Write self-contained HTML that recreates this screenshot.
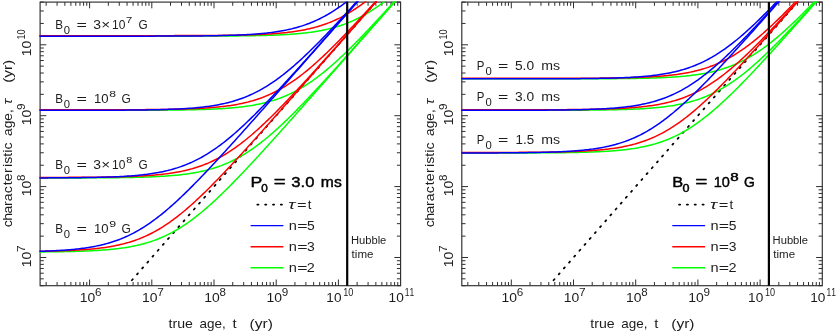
<!DOCTYPE html>
<html><head><meta charset="utf-8"><title>chart</title>
<style>html,body{margin:0;padding:0;background:#fff;}body{width:836px;height:332px;overflow:hidden;font-family:"Liberation Sans",sans-serif;}svg{display:block;will-change:transform}text{font-kerning:none;white-space:pre}</style>
</head><body>
<svg width="836" height="332" viewBox="0 0 836 332" font-family="Liberation Sans, sans-serif">
<defs><clipPath id="c0"><rect x="39.5" y="1.5" width="361.7" height="284.79999999999995"/></clipPath>
<clipPath id="c1"><rect x="461.2" y="1.5" width="361.7" height="284.79999999999995"/></clipPath></defs>
<rect x="40.10" y="2.10" width="360.50" height="283.60" fill="none" stroke="#2e2e2e" stroke-width="1.15"/>
<line x1="46.13" y1="2.10" x2="46.13" y2="5.80" stroke="#2e2e2e" stroke-width="1.0" />
<line x1="46.13" y1="285.70" x2="46.13" y2="282.00" stroke="#2e2e2e" stroke-width="1.0" />
<line x1="57.08" y1="2.10" x2="57.08" y2="5.80" stroke="#2e2e2e" stroke-width="1.0" />
<line x1="57.08" y1="285.70" x2="57.08" y2="282.00" stroke="#2e2e2e" stroke-width="1.0" />
<line x1="64.85" y1="2.10" x2="64.85" y2="5.80" stroke="#2e2e2e" stroke-width="1.0" />
<line x1="64.85" y1="285.70" x2="64.85" y2="282.00" stroke="#2e2e2e" stroke-width="1.0" />
<line x1="70.88" y1="2.10" x2="70.88" y2="5.80" stroke="#2e2e2e" stroke-width="1.0" />
<line x1="70.88" y1="285.70" x2="70.88" y2="282.00" stroke="#2e2e2e" stroke-width="1.0" />
<line x1="75.80" y1="2.10" x2="75.80" y2="5.80" stroke="#2e2e2e" stroke-width="1.0" />
<line x1="75.80" y1="285.70" x2="75.80" y2="282.00" stroke="#2e2e2e" stroke-width="1.0" />
<line x1="79.97" y1="2.10" x2="79.97" y2="5.80" stroke="#2e2e2e" stroke-width="1.0" />
<line x1="79.97" y1="285.70" x2="79.97" y2="282.00" stroke="#2e2e2e" stroke-width="1.0" />
<line x1="83.58" y1="2.10" x2="83.58" y2="5.80" stroke="#2e2e2e" stroke-width="1.0" />
<line x1="83.58" y1="285.70" x2="83.58" y2="282.00" stroke="#2e2e2e" stroke-width="1.0" />
<line x1="86.76" y1="2.10" x2="86.76" y2="5.80" stroke="#2e2e2e" stroke-width="1.0" />
<line x1="86.76" y1="285.70" x2="86.76" y2="282.00" stroke="#2e2e2e" stroke-width="1.0" />
<line x1="89.60" y1="2.10" x2="89.60" y2="8.30" stroke="#2e2e2e" stroke-width="1.0" />
<line x1="89.60" y1="285.70" x2="89.60" y2="279.50" stroke="#2e2e2e" stroke-width="1.0" />
<line x1="108.33" y1="2.10" x2="108.33" y2="5.80" stroke="#2e2e2e" stroke-width="1.0" />
<line x1="108.33" y1="285.70" x2="108.33" y2="282.00" stroke="#2e2e2e" stroke-width="1.0" />
<line x1="119.28" y1="2.10" x2="119.28" y2="5.80" stroke="#2e2e2e" stroke-width="1.0" />
<line x1="119.28" y1="285.70" x2="119.28" y2="282.00" stroke="#2e2e2e" stroke-width="1.0" />
<line x1="127.05" y1="2.10" x2="127.05" y2="5.80" stroke="#2e2e2e" stroke-width="1.0" />
<line x1="127.05" y1="285.70" x2="127.05" y2="282.00" stroke="#2e2e2e" stroke-width="1.0" />
<line x1="133.08" y1="2.10" x2="133.08" y2="5.80" stroke="#2e2e2e" stroke-width="1.0" />
<line x1="133.08" y1="285.70" x2="133.08" y2="282.00" stroke="#2e2e2e" stroke-width="1.0" />
<line x1="138.00" y1="2.10" x2="138.00" y2="5.80" stroke="#2e2e2e" stroke-width="1.0" />
<line x1="138.00" y1="285.70" x2="138.00" y2="282.00" stroke="#2e2e2e" stroke-width="1.0" />
<line x1="142.17" y1="2.10" x2="142.17" y2="5.80" stroke="#2e2e2e" stroke-width="1.0" />
<line x1="142.17" y1="285.70" x2="142.17" y2="282.00" stroke="#2e2e2e" stroke-width="1.0" />
<line x1="145.77" y1="2.10" x2="145.77" y2="5.80" stroke="#2e2e2e" stroke-width="1.0" />
<line x1="145.77" y1="285.70" x2="145.77" y2="282.00" stroke="#2e2e2e" stroke-width="1.0" />
<line x1="148.96" y1="2.10" x2="148.96" y2="5.80" stroke="#2e2e2e" stroke-width="1.0" />
<line x1="148.96" y1="285.70" x2="148.96" y2="282.00" stroke="#2e2e2e" stroke-width="1.0" />
<line x1="151.80" y1="2.10" x2="151.80" y2="8.30" stroke="#2e2e2e" stroke-width="1.0" />
<line x1="151.80" y1="285.70" x2="151.80" y2="279.50" stroke="#2e2e2e" stroke-width="1.0" />
<line x1="170.53" y1="2.10" x2="170.53" y2="5.80" stroke="#2e2e2e" stroke-width="1.0" />
<line x1="170.53" y1="285.70" x2="170.53" y2="282.00" stroke="#2e2e2e" stroke-width="1.0" />
<line x1="181.48" y1="2.10" x2="181.48" y2="5.80" stroke="#2e2e2e" stroke-width="1.0" />
<line x1="181.48" y1="285.70" x2="181.48" y2="282.00" stroke="#2e2e2e" stroke-width="1.0" />
<line x1="189.25" y1="2.10" x2="189.25" y2="5.80" stroke="#2e2e2e" stroke-width="1.0" />
<line x1="189.25" y1="285.70" x2="189.25" y2="282.00" stroke="#2e2e2e" stroke-width="1.0" />
<line x1="195.28" y1="2.10" x2="195.28" y2="5.80" stroke="#2e2e2e" stroke-width="1.0" />
<line x1="195.28" y1="285.70" x2="195.28" y2="282.00" stroke="#2e2e2e" stroke-width="1.0" />
<line x1="200.20" y1="2.10" x2="200.20" y2="5.80" stroke="#2e2e2e" stroke-width="1.0" />
<line x1="200.20" y1="285.70" x2="200.20" y2="282.00" stroke="#2e2e2e" stroke-width="1.0" />
<line x1="204.37" y1="2.10" x2="204.37" y2="5.80" stroke="#2e2e2e" stroke-width="1.0" />
<line x1="204.37" y1="285.70" x2="204.37" y2="282.00" stroke="#2e2e2e" stroke-width="1.0" />
<line x1="207.97" y1="2.10" x2="207.97" y2="5.80" stroke="#2e2e2e" stroke-width="1.0" />
<line x1="207.97" y1="285.70" x2="207.97" y2="282.00" stroke="#2e2e2e" stroke-width="1.0" />
<line x1="211.16" y1="2.10" x2="211.16" y2="5.80" stroke="#2e2e2e" stroke-width="1.0" />
<line x1="211.16" y1="285.70" x2="211.16" y2="282.00" stroke="#2e2e2e" stroke-width="1.0" />
<line x1="214.00" y1="2.10" x2="214.00" y2="8.30" stroke="#2e2e2e" stroke-width="1.0" />
<line x1="214.00" y1="285.70" x2="214.00" y2="279.50" stroke="#2e2e2e" stroke-width="1.0" />
<line x1="232.73" y1="2.10" x2="232.73" y2="5.80" stroke="#2e2e2e" stroke-width="1.0" />
<line x1="232.73" y1="285.70" x2="232.73" y2="282.00" stroke="#2e2e2e" stroke-width="1.0" />
<line x1="243.68" y1="2.10" x2="243.68" y2="5.80" stroke="#2e2e2e" stroke-width="1.0" />
<line x1="243.68" y1="285.70" x2="243.68" y2="282.00" stroke="#2e2e2e" stroke-width="1.0" />
<line x1="251.45" y1="2.10" x2="251.45" y2="5.80" stroke="#2e2e2e" stroke-width="1.0" />
<line x1="251.45" y1="285.70" x2="251.45" y2="282.00" stroke="#2e2e2e" stroke-width="1.0" />
<line x1="257.48" y1="2.10" x2="257.48" y2="5.80" stroke="#2e2e2e" stroke-width="1.0" />
<line x1="257.48" y1="285.70" x2="257.48" y2="282.00" stroke="#2e2e2e" stroke-width="1.0" />
<line x1="262.40" y1="2.10" x2="262.40" y2="5.80" stroke="#2e2e2e" stroke-width="1.0" />
<line x1="262.40" y1="285.70" x2="262.40" y2="282.00" stroke="#2e2e2e" stroke-width="1.0" />
<line x1="266.57" y1="2.10" x2="266.57" y2="5.80" stroke="#2e2e2e" stroke-width="1.0" />
<line x1="266.57" y1="285.70" x2="266.57" y2="282.00" stroke="#2e2e2e" stroke-width="1.0" />
<line x1="270.17" y1="2.10" x2="270.17" y2="5.80" stroke="#2e2e2e" stroke-width="1.0" />
<line x1="270.17" y1="285.70" x2="270.17" y2="282.00" stroke="#2e2e2e" stroke-width="1.0" />
<line x1="273.36" y1="2.10" x2="273.36" y2="5.80" stroke="#2e2e2e" stroke-width="1.0" />
<line x1="273.36" y1="285.70" x2="273.36" y2="282.00" stroke="#2e2e2e" stroke-width="1.0" />
<line x1="276.20" y1="2.10" x2="276.20" y2="8.30" stroke="#2e2e2e" stroke-width="1.0" />
<line x1="276.20" y1="285.70" x2="276.20" y2="279.50" stroke="#2e2e2e" stroke-width="1.0" />
<line x1="294.93" y1="2.10" x2="294.93" y2="5.80" stroke="#2e2e2e" stroke-width="1.0" />
<line x1="294.93" y1="285.70" x2="294.93" y2="282.00" stroke="#2e2e2e" stroke-width="1.0" />
<line x1="305.88" y1="2.10" x2="305.88" y2="5.80" stroke="#2e2e2e" stroke-width="1.0" />
<line x1="305.88" y1="285.70" x2="305.88" y2="282.00" stroke="#2e2e2e" stroke-width="1.0" />
<line x1="313.65" y1="2.10" x2="313.65" y2="5.80" stroke="#2e2e2e" stroke-width="1.0" />
<line x1="313.65" y1="285.70" x2="313.65" y2="282.00" stroke="#2e2e2e" stroke-width="1.0" />
<line x1="319.68" y1="2.10" x2="319.68" y2="5.80" stroke="#2e2e2e" stroke-width="1.0" />
<line x1="319.68" y1="285.70" x2="319.68" y2="282.00" stroke="#2e2e2e" stroke-width="1.0" />
<line x1="324.60" y1="2.10" x2="324.60" y2="5.80" stroke="#2e2e2e" stroke-width="1.0" />
<line x1="324.60" y1="285.70" x2="324.60" y2="282.00" stroke="#2e2e2e" stroke-width="1.0" />
<line x1="328.77" y1="2.10" x2="328.77" y2="5.80" stroke="#2e2e2e" stroke-width="1.0" />
<line x1="328.77" y1="285.70" x2="328.77" y2="282.00" stroke="#2e2e2e" stroke-width="1.0" />
<line x1="332.37" y1="2.10" x2="332.37" y2="5.80" stroke="#2e2e2e" stroke-width="1.0" />
<line x1="332.37" y1="285.70" x2="332.37" y2="282.00" stroke="#2e2e2e" stroke-width="1.0" />
<line x1="335.55" y1="2.10" x2="335.55" y2="5.80" stroke="#2e2e2e" stroke-width="1.0" />
<line x1="335.55" y1="285.70" x2="335.55" y2="282.00" stroke="#2e2e2e" stroke-width="1.0" />
<line x1="338.40" y1="2.10" x2="338.40" y2="8.30" stroke="#2e2e2e" stroke-width="1.0" />
<line x1="338.40" y1="285.70" x2="338.40" y2="279.50" stroke="#2e2e2e" stroke-width="1.0" />
<line x1="357.12" y1="2.10" x2="357.12" y2="5.80" stroke="#2e2e2e" stroke-width="1.0" />
<line x1="357.12" y1="285.70" x2="357.12" y2="282.00" stroke="#2e2e2e" stroke-width="1.0" />
<line x1="368.08" y1="2.10" x2="368.08" y2="5.80" stroke="#2e2e2e" stroke-width="1.0" />
<line x1="368.08" y1="285.70" x2="368.08" y2="282.00" stroke="#2e2e2e" stroke-width="1.0" />
<line x1="375.85" y1="2.10" x2="375.85" y2="5.80" stroke="#2e2e2e" stroke-width="1.0" />
<line x1="375.85" y1="285.70" x2="375.85" y2="282.00" stroke="#2e2e2e" stroke-width="1.0" />
<line x1="381.88" y1="2.10" x2="381.88" y2="5.80" stroke="#2e2e2e" stroke-width="1.0" />
<line x1="381.88" y1="285.70" x2="381.88" y2="282.00" stroke="#2e2e2e" stroke-width="1.0" />
<line x1="386.80" y1="2.10" x2="386.80" y2="5.80" stroke="#2e2e2e" stroke-width="1.0" />
<line x1="386.80" y1="285.70" x2="386.80" y2="282.00" stroke="#2e2e2e" stroke-width="1.0" />
<line x1="390.97" y1="2.10" x2="390.97" y2="5.80" stroke="#2e2e2e" stroke-width="1.0" />
<line x1="390.97" y1="285.70" x2="390.97" y2="282.00" stroke="#2e2e2e" stroke-width="1.0" />
<line x1="394.57" y1="2.10" x2="394.57" y2="5.80" stroke="#2e2e2e" stroke-width="1.0" />
<line x1="394.57" y1="285.70" x2="394.57" y2="282.00" stroke="#2e2e2e" stroke-width="1.0" />
<line x1="397.75" y1="2.10" x2="397.75" y2="5.80" stroke="#2e2e2e" stroke-width="1.0" />
<line x1="397.75" y1="285.70" x2="397.75" y2="282.00" stroke="#2e2e2e" stroke-width="1.0" />
<line x1="40.10" y1="285.70" x2="43.80" y2="285.70" stroke="#2e2e2e" stroke-width="1.0" />
<line x1="400.60" y1="285.70" x2="396.90" y2="285.70" stroke="#2e2e2e" stroke-width="1.0" />
<line x1="40.10" y1="278.83" x2="43.80" y2="278.83" stroke="#2e2e2e" stroke-width="1.0" />
<line x1="400.60" y1="278.83" x2="396.90" y2="278.83" stroke="#2e2e2e" stroke-width="1.0" />
<line x1="40.10" y1="273.22" x2="43.80" y2="273.22" stroke="#2e2e2e" stroke-width="1.0" />
<line x1="400.60" y1="273.22" x2="396.90" y2="273.22" stroke="#2e2e2e" stroke-width="1.0" />
<line x1="40.10" y1="268.47" x2="43.80" y2="268.47" stroke="#2e2e2e" stroke-width="1.0" />
<line x1="400.60" y1="268.47" x2="396.90" y2="268.47" stroke="#2e2e2e" stroke-width="1.0" />
<line x1="40.10" y1="264.36" x2="43.80" y2="264.36" stroke="#2e2e2e" stroke-width="1.0" />
<line x1="400.60" y1="264.36" x2="396.90" y2="264.36" stroke="#2e2e2e" stroke-width="1.0" />
<line x1="40.10" y1="260.73" x2="43.80" y2="260.73" stroke="#2e2e2e" stroke-width="1.0" />
<line x1="400.60" y1="260.73" x2="396.90" y2="260.73" stroke="#2e2e2e" stroke-width="1.0" />
<line x1="40.10" y1="257.49" x2="46.30" y2="257.49" stroke="#2e2e2e" stroke-width="1.0" />
<line x1="400.60" y1="257.49" x2="394.40" y2="257.49" stroke="#2e2e2e" stroke-width="1.0" />
<line x1="40.10" y1="236.14" x2="43.80" y2="236.14" stroke="#2e2e2e" stroke-width="1.0" />
<line x1="400.60" y1="236.14" x2="396.90" y2="236.14" stroke="#2e2e2e" stroke-width="1.0" />
<line x1="40.10" y1="223.66" x2="43.80" y2="223.66" stroke="#2e2e2e" stroke-width="1.0" />
<line x1="400.60" y1="223.66" x2="396.90" y2="223.66" stroke="#2e2e2e" stroke-width="1.0" />
<line x1="40.10" y1="214.80" x2="43.80" y2="214.80" stroke="#2e2e2e" stroke-width="1.0" />
<line x1="400.60" y1="214.80" x2="396.90" y2="214.80" stroke="#2e2e2e" stroke-width="1.0" />
<line x1="40.10" y1="207.93" x2="43.80" y2="207.93" stroke="#2e2e2e" stroke-width="1.0" />
<line x1="400.60" y1="207.93" x2="396.90" y2="207.93" stroke="#2e2e2e" stroke-width="1.0" />
<line x1="40.10" y1="202.32" x2="43.80" y2="202.32" stroke="#2e2e2e" stroke-width="1.0" />
<line x1="400.60" y1="202.32" x2="396.90" y2="202.32" stroke="#2e2e2e" stroke-width="1.0" />
<line x1="40.10" y1="197.57" x2="43.80" y2="197.57" stroke="#2e2e2e" stroke-width="1.0" />
<line x1="400.60" y1="197.57" x2="396.90" y2="197.57" stroke="#2e2e2e" stroke-width="1.0" />
<line x1="40.10" y1="193.46" x2="43.80" y2="193.46" stroke="#2e2e2e" stroke-width="1.0" />
<line x1="400.60" y1="193.46" x2="396.90" y2="193.46" stroke="#2e2e2e" stroke-width="1.0" />
<line x1="40.10" y1="189.83" x2="43.80" y2="189.83" stroke="#2e2e2e" stroke-width="1.0" />
<line x1="400.60" y1="189.83" x2="396.90" y2="189.83" stroke="#2e2e2e" stroke-width="1.0" />
<line x1="40.10" y1="186.59" x2="46.30" y2="186.59" stroke="#2e2e2e" stroke-width="1.0" />
<line x1="400.60" y1="186.59" x2="394.40" y2="186.59" stroke="#2e2e2e" stroke-width="1.0" />
<line x1="40.10" y1="165.24" x2="43.80" y2="165.24" stroke="#2e2e2e" stroke-width="1.0" />
<line x1="400.60" y1="165.24" x2="396.90" y2="165.24" stroke="#2e2e2e" stroke-width="1.0" />
<line x1="40.10" y1="152.76" x2="43.80" y2="152.76" stroke="#2e2e2e" stroke-width="1.0" />
<line x1="400.60" y1="152.76" x2="396.90" y2="152.76" stroke="#2e2e2e" stroke-width="1.0" />
<line x1="40.10" y1="143.90" x2="43.80" y2="143.90" stroke="#2e2e2e" stroke-width="1.0" />
<line x1="400.60" y1="143.90" x2="396.90" y2="143.90" stroke="#2e2e2e" stroke-width="1.0" />
<line x1="40.10" y1="137.03" x2="43.80" y2="137.03" stroke="#2e2e2e" stroke-width="1.0" />
<line x1="400.60" y1="137.03" x2="396.90" y2="137.03" stroke="#2e2e2e" stroke-width="1.0" />
<line x1="40.10" y1="131.42" x2="43.80" y2="131.42" stroke="#2e2e2e" stroke-width="1.0" />
<line x1="400.60" y1="131.42" x2="396.90" y2="131.42" stroke="#2e2e2e" stroke-width="1.0" />
<line x1="40.10" y1="126.67" x2="43.80" y2="126.67" stroke="#2e2e2e" stroke-width="1.0" />
<line x1="400.60" y1="126.67" x2="396.90" y2="126.67" stroke="#2e2e2e" stroke-width="1.0" />
<line x1="40.10" y1="122.56" x2="43.80" y2="122.56" stroke="#2e2e2e" stroke-width="1.0" />
<line x1="400.60" y1="122.56" x2="396.90" y2="122.56" stroke="#2e2e2e" stroke-width="1.0" />
<line x1="40.10" y1="118.93" x2="43.80" y2="118.93" stroke="#2e2e2e" stroke-width="1.0" />
<line x1="400.60" y1="118.93" x2="396.90" y2="118.93" stroke="#2e2e2e" stroke-width="1.0" />
<line x1="40.10" y1="115.69" x2="46.30" y2="115.69" stroke="#2e2e2e" stroke-width="1.0" />
<line x1="400.60" y1="115.69" x2="394.40" y2="115.69" stroke="#2e2e2e" stroke-width="1.0" />
<line x1="40.10" y1="94.34" x2="43.80" y2="94.34" stroke="#2e2e2e" stroke-width="1.0" />
<line x1="400.60" y1="94.34" x2="396.90" y2="94.34" stroke="#2e2e2e" stroke-width="1.0" />
<line x1="40.10" y1="81.86" x2="43.80" y2="81.86" stroke="#2e2e2e" stroke-width="1.0" />
<line x1="400.60" y1="81.86" x2="396.90" y2="81.86" stroke="#2e2e2e" stroke-width="1.0" />
<line x1="40.10" y1="73.00" x2="43.80" y2="73.00" stroke="#2e2e2e" stroke-width="1.0" />
<line x1="400.60" y1="73.00" x2="396.90" y2="73.00" stroke="#2e2e2e" stroke-width="1.0" />
<line x1="40.10" y1="66.13" x2="43.80" y2="66.13" stroke="#2e2e2e" stroke-width="1.0" />
<line x1="400.60" y1="66.13" x2="396.90" y2="66.13" stroke="#2e2e2e" stroke-width="1.0" />
<line x1="40.10" y1="60.52" x2="43.80" y2="60.52" stroke="#2e2e2e" stroke-width="1.0" />
<line x1="400.60" y1="60.52" x2="396.90" y2="60.52" stroke="#2e2e2e" stroke-width="1.0" />
<line x1="40.10" y1="55.77" x2="43.80" y2="55.77" stroke="#2e2e2e" stroke-width="1.0" />
<line x1="400.60" y1="55.77" x2="396.90" y2="55.77" stroke="#2e2e2e" stroke-width="1.0" />
<line x1="40.10" y1="51.66" x2="43.80" y2="51.66" stroke="#2e2e2e" stroke-width="1.0" />
<line x1="400.60" y1="51.66" x2="396.90" y2="51.66" stroke="#2e2e2e" stroke-width="1.0" />
<line x1="40.10" y1="48.03" x2="43.80" y2="48.03" stroke="#2e2e2e" stroke-width="1.0" />
<line x1="400.60" y1="48.03" x2="396.90" y2="48.03" stroke="#2e2e2e" stroke-width="1.0" />
<line x1="40.10" y1="44.79" x2="46.30" y2="44.79" stroke="#2e2e2e" stroke-width="1.0" />
<line x1="400.60" y1="44.79" x2="394.40" y2="44.79" stroke="#2e2e2e" stroke-width="1.0" />
<line x1="40.10" y1="23.44" x2="43.80" y2="23.44" stroke="#2e2e2e" stroke-width="1.0" />
<line x1="400.60" y1="23.44" x2="396.90" y2="23.44" stroke="#2e2e2e" stroke-width="1.0" />
<line x1="40.10" y1="10.96" x2="43.80" y2="10.96" stroke="#2e2e2e" stroke-width="1.0" />
<line x1="400.60" y1="10.96" x2="396.90" y2="10.96" stroke="#2e2e2e" stroke-width="1.0" />
<line x1="40.10" y1="2.10" x2="43.80" y2="2.10" stroke="#2e2e2e" stroke-width="1.0" />
<line x1="400.60" y1="2.10" x2="396.90" y2="2.10" stroke="#2e2e2e" stroke-width="1.0" />
<g clip-path="url(#c0)" fill="none" stroke-linejoin="round">
<line x1="131.86" y1="280.22" x2="400.60" y2="-26.11" stroke="#000" stroke-width="1.8" stroke-linecap="round" stroke-dasharray="1.3 6.54"/>

<polyline points="36.99,36.18 38.51,36.18 40.02,36.18 41.54,36.18 43.05,36.18 44.57,36.18 46.08,36.18 47.60,36.18 49.11,36.18 50.63,36.18 52.14,36.18 53.66,36.18 55.17,36.18 56.69,36.18 58.20,36.18 59.72,36.18 61.23,36.18 62.75,36.18 64.26,36.18 65.78,36.18 67.29,36.18 68.81,36.18 70.32,36.18 71.84,36.18 73.35,36.18 74.87,36.18 76.38,36.18 77.90,36.18 79.41,36.18 80.93,36.18 82.44,36.18 83.96,36.18 85.47,36.18 86.99,36.18 88.50,36.18 90.02,36.18 91.53,36.18 93.05,36.18 94.56,36.18 96.08,36.18 97.59,36.18 99.11,36.18 100.62,36.18 102.14,36.18 103.65,36.18 105.17,36.18 106.68,36.18 108.20,36.18 109.71,36.18 111.23,36.18 112.74,36.18 114.26,36.17 115.77,36.17 117.29,36.17 118.80,36.17 120.32,36.17 121.83,36.17 123.35,36.17 124.86,36.17 126.38,36.17 127.89,36.17 129.41,36.17 130.92,36.17 132.44,36.17 133.95,36.17 135.47,36.17 136.98,36.17 138.50,36.17 140.01,36.17 141.53,36.17 143.04,36.17 144.56,36.17 146.07,36.17 147.59,36.17 149.10,36.17 150.62,36.17 152.13,36.17 153.65,36.17 155.16,36.16 156.68,36.16 158.19,36.16 159.71,36.16 161.22,36.16 162.74,36.16 164.25,36.16 165.77,36.16 167.28,36.16 168.80,36.16 170.31,36.15 171.83,36.15 173.34,36.15 174.86,36.15 176.37,36.15 177.89,36.15 179.40,36.15 180.92,36.14 182.43,36.14 183.95,36.14 185.46,36.14 186.98,36.13 188.49,36.13 190.01,36.13 191.52,36.13 193.04,36.12 194.55,36.12 196.07,36.12 197.58,36.11 199.10,36.11 200.61,36.11 202.13,36.10 203.64,36.10 205.16,36.09 206.67,36.09 208.19,36.08 209.70,36.08 211.22,36.07 212.73,36.07 214.25,36.06 215.76,36.05 217.28,36.05 218.80,36.04 220.31,36.03 221.83,36.02 223.34,36.01 224.86,36.00 226.37,35.99 227.89,35.98 229.40,35.97 230.92,35.96 232.43,35.95 233.95,35.93 235.46,35.92 236.98,35.90 238.49,35.89 240.01,35.87 241.52,35.85 243.04,35.84 244.55,35.82 246.07,35.80 247.58,35.77 249.10,35.75 250.61,35.73 252.13,35.70 253.64,35.67 255.16,35.64 256.67,35.61 258.19,35.58 259.70,35.55 261.22,35.51 262.73,35.47 264.25,35.43 265.76,35.39 267.28,35.35 268.79,35.30 270.31,35.25 271.82,35.20 273.34,35.14 274.85,35.08 276.37,35.02 277.88,34.95 279.40,34.89 280.91,34.81 282.43,34.74 283.94,34.65 285.46,34.57 286.97,34.48 288.49,34.38 290.00,34.28 291.52,34.18 293.03,34.07 294.55,33.95 296.06,33.82 297.58,33.69 299.09,33.56 300.61,33.41 302.12,33.26 303.64,33.10 305.15,32.93 306.67,32.75 308.18,32.57 309.70,32.37 311.21,32.17 312.73,31.95 314.24,31.72 315.76,31.49 317.27,31.24 318.79,30.97 320.30,30.70 321.82,30.41 323.33,30.11 324.85,29.79 326.36,29.46 327.88,29.12 329.39,28.76 330.91,28.38 332.42,27.98 333.94,27.57 335.45,27.14 336.97,26.70 338.48,26.23 340.00,25.74 341.51,25.24 343.03,24.71 344.54,24.16 346.06,23.60 347.57,23.01 349.09,22.40 350.60,21.76 352.12,21.11 353.63,20.43 355.15,19.73 356.66,19.00 358.18,18.25 359.69,17.48 361.21,16.69 362.72,15.87 364.24,15.02 365.75,14.15 367.27,13.26 368.78,12.34 370.30,11.40 371.81,10.44 373.33,9.45 374.84,8.44 376.36,7.40 377.87,6.34 379.39,5.26 380.90,4.16 382.42,3.03 383.93,1.89 385.45,0.72 386.96,-0.47 388.48,-1.68 389.99,-2.91 391.51,-4.16 393.02,-5.43 394.54,-6.71 396.05,-8.02 397.57,-9.34 399.08,-10.68 400.60,-12.04" stroke="#00ff00" stroke-width="1.5"/>
<polyline points="36.99,35.68 38.51,35.68 40.02,35.68 41.54,35.68 43.05,35.68 44.57,35.68 46.08,35.68 47.60,35.68 49.11,35.68 50.63,35.68 52.14,35.68 53.66,35.68 55.17,35.68 56.69,35.68 58.20,35.68 59.72,35.68 61.23,35.68 62.75,35.68 64.26,35.68 65.78,35.68 67.29,35.68 68.81,35.68 70.32,35.68 71.84,35.68 73.35,35.68 74.87,35.68 76.38,35.68 77.90,35.68 79.41,35.68 80.93,35.68 82.44,35.68 83.96,35.68 85.47,35.68 86.99,35.68 88.50,35.68 90.02,35.68 91.53,35.68 93.05,35.68 94.56,35.68 96.08,35.68 97.59,35.67 99.11,35.67 100.62,35.67 102.14,35.67 103.65,35.67 105.17,35.67 106.68,35.67 108.20,35.67 109.71,35.67 111.23,35.67 112.74,35.67 114.26,35.67 115.77,35.67 117.29,35.67 118.80,35.67 120.32,35.67 121.83,35.67 123.35,35.67 124.86,35.67 126.38,35.67 127.89,35.67 129.41,35.67 130.92,35.67 132.44,35.67 133.95,35.67 135.47,35.67 136.98,35.66 138.50,35.66 140.01,35.66 141.53,35.66 143.04,35.66 144.56,35.66 146.07,35.66 147.59,35.66 149.10,35.66 150.62,35.66 152.13,35.65 153.65,35.65 155.16,35.65 156.68,35.65 158.19,35.65 159.71,35.65 161.22,35.65 162.74,35.64 164.25,35.64 165.77,35.64 167.28,35.64 168.80,35.64 170.31,35.63 171.83,35.63 173.34,35.63 174.86,35.62 176.37,35.62 177.89,35.62 179.40,35.61 180.92,35.61 182.43,35.61 183.95,35.60 185.46,35.60 186.98,35.59 188.49,35.59 190.01,35.58 191.52,35.58 193.04,35.57 194.55,35.57 196.07,35.56 197.58,35.55 199.10,35.55 200.61,35.54 202.13,35.53 203.64,35.52 205.16,35.51 206.67,35.51 208.19,35.50 209.70,35.48 211.22,35.47 212.73,35.46 214.25,35.45 215.76,35.44 217.28,35.42 218.80,35.41 220.31,35.39 221.83,35.38 223.34,35.36 224.86,35.34 226.37,35.32 227.89,35.30 229.40,35.28 230.92,35.26 232.43,35.23 233.95,35.21 235.46,35.18 236.98,35.15 238.49,35.12 240.01,35.09 241.52,35.05 243.04,35.02 244.55,34.98 246.07,34.94 247.58,34.90 249.10,34.86 250.61,34.81 252.13,34.76 253.64,34.71 255.16,34.65 256.67,34.59 258.19,34.53 259.70,34.47 261.22,34.40 262.73,34.33 264.25,34.25 265.76,34.17 267.28,34.09 268.79,34.00 270.31,33.90 271.82,33.80 273.34,33.70 274.85,33.59 276.37,33.47 277.88,33.35 279.40,33.22 280.91,33.08 282.43,32.94 283.94,32.79 285.46,32.63 286.97,32.46 288.49,32.29 290.00,32.10 291.52,31.91 293.03,31.71 294.55,31.49 296.06,31.27 297.58,31.03 299.09,30.78 300.61,30.52 302.12,30.25 303.64,29.96 305.15,29.66 306.67,29.35 308.18,29.02 309.70,28.67 311.21,28.31 312.73,27.94 314.24,27.55 315.76,27.14 317.27,26.71 318.79,26.26 320.30,25.80 321.82,25.31 323.33,24.81 324.85,24.28 326.36,23.74 327.88,23.17 329.39,22.58 330.91,21.97 332.42,21.34 333.94,20.68 335.45,20.00 336.97,19.30 338.48,18.57 340.00,17.83 341.51,17.05 343.03,16.25 344.54,15.43 346.06,14.59 347.57,13.72 349.09,12.82 350.60,11.90 352.12,10.96 353.63,9.99 355.15,9.00 356.66,7.99 358.18,6.95 359.69,5.89 361.21,4.80 362.72,3.70 364.24,2.57 365.75,1.42 367.27,0.25 368.78,-0.95 370.30,-2.16 371.81,-3.39 373.33,-4.65 374.84,-5.92 376.36,-7.21 377.87,-8.52 379.39,-9.85 380.90,-11.19 382.42,-12.55 383.93,-13.93 385.45,-15.32 386.96,-16.72 388.48,-18.15 389.99,-19.58 391.51,-21.03 393.02,-22.49 394.54,-23.96 396.05,-25.45 397.57,-26.95 399.08,-28.45 400.60,-29.97" stroke="#ff0000" stroke-width="1.5"/>
<polyline points="36.99,36.18 38.51,36.18 40.02,36.18 41.54,36.18 43.05,36.18 44.57,36.18 46.08,36.18 47.60,36.18 49.11,36.18 50.63,36.18 52.14,36.18 53.66,36.18 55.17,36.18 56.69,36.18 58.20,36.18 59.72,36.18 61.23,36.18 62.75,36.18 64.26,36.18 65.78,36.18 67.29,36.18 68.81,36.18 70.32,36.18 71.84,36.18 73.35,36.18 74.87,36.18 76.38,36.18 77.90,36.17 79.41,36.17 80.93,36.17 82.44,36.17 83.96,36.17 85.47,36.17 86.99,36.17 88.50,36.17 90.02,36.17 91.53,36.17 93.05,36.17 94.56,36.17 96.08,36.17 97.59,36.17 99.11,36.17 100.62,36.17 102.14,36.17 103.65,36.17 105.17,36.17 106.68,36.17 108.20,36.17 109.71,36.17 111.23,36.17 112.74,36.17 114.26,36.17 115.77,36.17 117.29,36.16 118.80,36.16 120.32,36.16 121.83,36.16 123.35,36.16 124.86,36.16 126.38,36.16 127.89,36.16 129.41,36.16 130.92,36.16 132.44,36.15 133.95,36.15 135.47,36.15 136.98,36.15 138.50,36.15 140.01,36.15 141.53,36.15 143.04,36.14 144.56,36.14 146.07,36.14 147.59,36.14 149.10,36.14 150.62,36.13 152.13,36.13 153.65,36.13 155.16,36.12 156.68,36.12 158.19,36.12 159.71,36.12 161.22,36.11 162.74,36.11 164.25,36.10 165.77,36.10 167.28,36.09 168.80,36.09 170.31,36.08 171.83,36.08 173.34,36.07 174.86,36.07 176.37,36.06 177.89,36.05 179.40,36.05 180.92,36.04 182.43,36.03 183.95,36.02 185.46,36.02 186.98,36.01 188.49,36.00 190.01,35.99 191.52,35.97 193.04,35.96 194.55,35.95 196.07,35.94 197.58,35.92 199.10,35.91 200.61,35.89 202.13,35.88 203.64,35.86 205.16,35.84 206.67,35.82 208.19,35.80 209.70,35.78 211.22,35.76 212.73,35.73 214.25,35.71 215.76,35.68 217.28,35.65 218.80,35.62 220.31,35.59 221.83,35.56 223.34,35.52 224.86,35.48 226.37,35.44 227.89,35.40 229.40,35.36 230.92,35.31 232.43,35.26 233.95,35.21 235.46,35.16 236.98,35.10 238.49,35.04 240.01,34.97 241.52,34.90 243.04,34.83 244.55,34.76 246.07,34.68 247.58,34.59 249.10,34.50 250.61,34.41 252.13,34.31 253.64,34.21 255.16,34.10 256.67,33.98 258.19,33.86 259.70,33.73 261.22,33.60 262.73,33.45 264.25,33.30 265.76,33.15 267.28,32.98 268.79,32.80 270.31,32.62 271.82,32.43 273.34,32.23 274.85,32.01 276.37,31.79 277.88,31.55 279.40,31.31 280.91,31.05 282.43,30.78 283.94,30.49 285.46,30.20 286.97,29.88 288.49,29.56 290.00,29.22 291.52,28.86 293.03,28.49 294.55,28.10 296.06,27.69 297.58,27.27 299.09,26.82 300.61,26.36 302.12,25.88 303.64,25.38 305.15,24.86 306.67,24.32 308.18,23.76 309.70,23.18 311.21,22.57 312.73,21.95 314.24,21.30 315.76,20.62 317.27,19.93 318.79,19.21 320.30,18.47 321.82,17.70 323.33,16.91 324.85,16.10 326.36,15.26 327.88,14.40 329.39,13.51 330.91,12.60 332.42,11.67 333.94,10.71 335.45,9.73 336.97,8.73 338.48,7.70 340.00,6.65 341.51,5.57 343.03,4.47 344.54,3.35 346.06,2.21 347.57,1.05 349.09,-0.13 350.60,-1.34 352.12,-2.56 353.63,-3.80 355.15,-5.07 356.66,-6.35 358.18,-7.65 359.69,-8.97 361.21,-10.30 362.72,-11.65 364.24,-13.02 365.75,-14.40 367.27,-15.80 368.78,-17.22 370.30,-18.64 371.81,-20.08 373.33,-21.54 374.84,-23.01 376.36,-24.48 377.87,-25.97 379.39,-27.48 380.90,-28.99 382.42,-30.51 383.93,-32.04 385.45,-33.59 386.96,-35.14 388.48,-36.70 389.99,-38.27 391.51,-39.84 393.02,-41.42 394.54,-43.02 396.05,-44.61 397.57,-46.22 399.08,-47.83 400.60,-49.44" stroke="#0000ff" stroke-width="1.5"/>
<polyline points="36.99,110.32 38.51,110.32 40.02,110.32 41.54,110.32 43.05,110.32 44.57,110.32 46.08,110.32 47.60,110.32 49.11,110.32 50.63,110.32 52.14,110.32 53.66,110.32 55.17,110.32 56.69,110.32 58.20,110.32 59.72,110.32 61.23,110.32 62.75,110.32 64.26,110.32 65.78,110.32 67.29,110.32 68.81,110.32 70.32,110.32 71.84,110.32 73.35,110.31 74.87,110.31 76.38,110.31 77.90,110.31 79.41,110.31 80.93,110.31 82.44,110.31 83.96,110.31 85.47,110.31 86.99,110.31 88.50,110.31 90.02,110.31 91.53,110.31 93.05,110.31 94.56,110.31 96.08,110.31 97.59,110.30 99.11,110.30 100.62,110.30 102.14,110.30 103.65,110.30 105.17,110.30 106.68,110.30 108.20,110.30 109.71,110.29 111.23,110.29 112.74,110.29 114.26,110.29 115.77,110.29 117.29,110.29 118.80,110.28 120.32,110.28 121.83,110.28 123.35,110.28 124.86,110.27 126.38,110.27 127.89,110.27 129.41,110.27 130.92,110.26 132.44,110.26 133.95,110.25 135.47,110.25 136.98,110.25 138.50,110.24 140.01,110.24 141.53,110.23 143.04,110.23 144.56,110.22 146.07,110.22 147.59,110.21 149.10,110.20 150.62,110.20 152.13,110.19 153.65,110.18 155.16,110.17 156.68,110.17 158.19,110.16 159.71,110.15 161.22,110.14 162.74,110.13 164.25,110.12 165.77,110.10 167.28,110.09 168.80,110.08 170.31,110.06 171.83,110.05 173.34,110.03 174.86,110.02 176.37,110.00 177.89,109.98 179.40,109.96 180.92,109.94 182.43,109.92 183.95,109.90 185.46,109.87 186.98,109.85 188.49,109.82 190.01,109.79 191.52,109.76 193.04,109.73 194.55,109.69 196.07,109.66 197.58,109.62 199.10,109.58 200.61,109.54 202.13,109.49 203.64,109.45 205.16,109.40 206.67,109.34 208.19,109.29 209.70,109.23 211.22,109.17 212.73,109.10 214.25,109.03 215.76,108.96 217.28,108.88 218.80,108.80 220.31,108.72 221.83,108.63 223.34,108.53 224.86,108.43 226.37,108.33 227.89,108.22 229.40,108.10 230.92,107.98 232.43,107.85 233.95,107.71 235.46,107.57 236.98,107.41 238.49,107.25 240.01,107.09 241.52,106.91 243.04,106.72 244.55,106.53 246.07,106.32 247.58,106.11 249.10,105.88 250.61,105.65 252.13,105.40 253.64,105.14 255.16,104.86 256.67,104.57 258.19,104.27 259.70,103.96 261.22,103.63 262.73,103.29 264.25,102.92 265.76,102.55 267.28,102.16 268.79,101.74 270.31,101.32 271.82,100.87 273.34,100.40 274.85,99.92 276.37,99.42 277.88,98.89 279.40,98.35 280.91,97.78 282.43,97.19 283.94,96.58 285.46,95.95 286.97,95.30 288.49,94.62 290.00,93.92 291.52,93.20 293.03,92.45 294.55,91.68 296.06,90.88 297.58,90.07 299.09,89.22 300.61,88.36 302.12,87.46 303.64,86.55 305.15,85.61 306.67,84.65 308.18,83.66 309.70,82.65 311.21,81.62 312.73,80.56 314.24,79.48 315.76,78.38 317.27,77.25 318.79,76.11 320.30,74.94 321.82,73.75 323.33,72.55 324.85,71.32 326.36,70.07 327.88,68.80 329.39,67.52 330.91,66.21 332.42,64.89 333.94,63.55 335.45,62.20 336.97,60.83 338.48,59.44 340.00,58.04 341.51,56.62 343.03,55.19 344.54,53.75 346.06,52.29 347.57,50.82 349.09,49.34 350.60,47.85 352.12,46.34 353.63,44.83 355.15,43.30 356.66,41.77 358.18,40.22 359.69,38.67 361.21,37.11 362.72,35.54 364.24,33.96 365.75,32.38 367.27,30.78 368.78,29.19 370.30,27.58 371.81,25.97 373.33,24.35 374.84,22.73 376.36,21.10 377.87,19.47 379.39,17.83 380.90,16.19 382.42,14.54 383.93,12.89 385.45,11.23 386.96,9.57 388.48,7.91 389.99,6.24 391.51,4.57 393.02,2.90 394.54,1.23 396.05,-0.45 397.57,-2.13 399.08,-3.82 400.60,-5.50" stroke="#00ff00" stroke-width="1.5"/>
<polyline points="36.99,109.82 38.51,109.82 40.02,109.82 41.54,109.82 43.05,109.82 44.57,109.82 46.08,109.82 47.60,109.82 49.11,109.82 50.63,109.82 52.14,109.82 53.66,109.82 55.17,109.82 56.69,109.81 58.20,109.81 59.72,109.81 61.23,109.81 62.75,109.81 64.26,109.81 65.78,109.81 67.29,109.81 68.81,109.81 70.32,109.81 71.84,109.81 73.35,109.81 74.87,109.81 76.38,109.81 77.90,109.81 79.41,109.80 80.93,109.80 82.44,109.80 83.96,109.80 85.47,109.80 86.99,109.80 88.50,109.80 90.02,109.80 91.53,109.80 93.05,109.79 94.56,109.79 96.08,109.79 97.59,109.79 99.11,109.79 100.62,109.78 102.14,109.78 103.65,109.78 105.17,109.78 106.68,109.77 108.20,109.77 109.71,109.77 111.23,109.77 112.74,109.76 114.26,109.76 115.77,109.76 117.29,109.75 118.80,109.75 120.32,109.74 121.83,109.74 123.35,109.73 124.86,109.73 126.38,109.72 127.89,109.72 129.41,109.71 130.92,109.71 132.44,109.70 133.95,109.69 135.47,109.68 136.98,109.68 138.50,109.67 140.01,109.66 141.53,109.65 143.04,109.64 144.56,109.63 146.07,109.62 147.59,109.61 149.10,109.59 150.62,109.58 152.13,109.57 153.65,109.55 155.16,109.54 156.68,109.52 158.19,109.50 159.71,109.49 161.22,109.47 162.74,109.45 164.25,109.42 165.77,109.40 167.28,109.38 168.80,109.35 170.31,109.33 171.83,109.30 173.34,109.27 174.86,109.23 176.37,109.20 177.89,109.17 179.40,109.13 180.92,109.09 182.43,109.05 183.95,109.00 185.46,108.96 186.98,108.91 188.49,108.86 190.01,108.80 191.52,108.74 193.04,108.68 194.55,108.62 196.07,108.55 197.58,108.48 199.10,108.40 200.61,108.32 202.13,108.24 203.64,108.15 205.16,108.05 206.67,107.95 208.19,107.85 209.70,107.74 211.22,107.62 212.73,107.50 214.25,107.37 215.76,107.24 217.28,107.09 218.80,106.94 220.31,106.79 221.83,106.62 223.34,106.44 224.86,106.26 226.37,106.07 227.89,105.86 229.40,105.65 230.92,105.42 232.43,105.19 233.95,104.94 235.46,104.68 236.98,104.41 238.49,104.12 240.01,103.83 241.52,103.51 243.04,103.18 244.55,102.84 246.07,102.48 247.58,102.11 249.10,101.72 250.61,101.31 252.13,100.88 253.64,100.44 255.16,99.97 256.67,99.49 258.19,98.98 259.70,98.46 261.22,97.92 262.73,97.35 264.25,96.76 265.76,96.16 267.28,95.52 268.79,94.87 270.31,94.19 271.82,93.49 273.34,92.77 274.85,92.02 276.37,91.25 277.88,90.45 279.40,89.63 280.91,88.79 282.43,87.92 283.94,87.03 285.46,86.11 286.97,85.17 288.49,84.20 290.00,83.21 291.52,82.20 293.03,81.16 294.55,80.10 296.06,79.02 297.58,77.92 299.09,76.79 300.61,75.64 302.12,74.47 303.64,73.28 305.15,72.06 306.67,70.83 308.18,69.58 309.70,68.31 311.21,67.02 312.73,65.71 314.24,64.39 315.76,63.04 317.27,61.69 318.79,60.31 320.30,58.92 321.82,57.51 323.33,56.09 324.85,54.66 326.36,53.21 327.88,51.75 329.39,50.28 330.91,48.80 332.42,47.30 333.94,45.79 335.45,44.27 336.97,42.75 338.48,41.21 340.00,39.66 341.51,38.11 343.03,36.54 344.54,34.97 346.06,33.39 347.57,31.80 349.09,30.21 350.60,28.61 352.12,27.00 353.63,25.39 355.15,23.77 356.66,22.14 358.18,20.51 359.69,18.88 361.21,17.24 362.72,15.59 364.24,13.94 365.75,12.29 367.27,10.64 368.78,8.98 370.30,7.31 371.81,5.64 373.33,3.97 374.84,2.30 376.36,0.62 377.87,-1.05 379.39,-2.74 380.90,-4.42 382.42,-6.11 383.93,-7.79 385.45,-9.49 386.96,-11.18 388.48,-12.87 389.99,-14.57 391.51,-16.27 393.02,-17.96 394.54,-19.67 396.05,-21.37 397.57,-23.07 399.08,-24.78 400.60,-26.48" stroke="#ff0000" stroke-width="1.5"/>
<polyline points="36.99,110.31 38.51,110.31 40.02,110.31 41.54,110.31 43.05,110.31 44.57,110.31 46.08,110.31 47.60,110.31 49.11,110.31 50.63,110.31 52.14,110.31 53.66,110.31 55.17,110.31 56.69,110.31 58.20,110.31 59.72,110.30 61.23,110.30 62.75,110.30 64.26,110.30 65.78,110.30 67.29,110.30 68.81,110.30 70.32,110.30 71.84,110.30 73.35,110.29 74.87,110.29 76.38,110.29 77.90,110.29 79.41,110.29 80.93,110.28 82.44,110.28 83.96,110.28 85.47,110.28 86.99,110.27 88.50,110.27 90.02,110.27 91.53,110.27 93.05,110.26 94.56,110.26 96.08,110.26 97.59,110.25 99.11,110.25 100.62,110.24 102.14,110.24 103.65,110.23 105.17,110.23 106.68,110.22 108.20,110.22 109.71,110.21 111.23,110.21 112.74,110.20 114.26,110.19 115.77,110.19 117.29,110.18 118.80,110.17 120.32,110.16 121.83,110.15 123.35,110.14 124.86,110.13 126.38,110.12 127.89,110.11 129.41,110.10 130.92,110.08 132.44,110.07 133.95,110.05 135.47,110.04 136.98,110.02 138.50,110.01 140.01,109.99 141.53,109.97 143.04,109.95 144.56,109.93 146.07,109.90 147.59,109.88 149.10,109.85 150.62,109.83 152.13,109.80 153.65,109.77 155.16,109.74 156.68,109.70 158.19,109.67 159.71,109.63 161.22,109.59 162.74,109.55 164.25,109.51 165.77,109.46 167.28,109.41 168.80,109.36 170.31,109.30 171.83,109.25 173.34,109.19 174.86,109.12 176.37,109.05 177.89,108.98 179.40,108.91 180.92,108.83 182.43,108.74 183.95,108.65 185.46,108.56 186.98,108.46 188.49,108.36 190.01,108.25 191.52,108.13 193.04,108.01 194.55,107.88 196.07,107.75 197.58,107.61 199.10,107.46 200.61,107.30 202.13,107.13 203.64,106.96 205.16,106.78 206.67,106.59 208.19,106.38 209.70,106.17 211.22,105.95 212.73,105.71 214.25,105.47 215.76,105.21 217.28,104.94 218.80,104.66 220.31,104.36 221.83,104.05 223.34,103.72 224.86,103.38 226.37,103.03 227.89,102.66 229.40,102.27 230.92,101.86 232.43,101.44 233.95,101.00 235.46,100.54 236.98,100.06 238.49,99.56 240.01,99.04 241.52,98.50 243.04,97.94 244.55,97.36 246.07,96.76 247.58,96.13 249.10,95.48 250.61,94.81 252.13,94.12 253.64,93.40 255.16,92.66 256.67,91.90 258.19,91.11 259.70,90.30 261.22,89.46 262.73,88.60 264.25,87.72 265.76,86.81 267.28,85.88 268.79,84.92 270.31,83.94 271.82,82.94 273.34,81.91 274.85,80.86 276.37,79.79 277.88,78.69 279.40,77.57 280.91,76.44 282.43,75.27 283.94,74.09 285.46,72.89 286.97,71.67 288.49,70.42 290.00,69.16 291.52,67.88 293.03,66.58 294.55,65.27 296.06,63.93 297.58,62.58 299.09,61.21 300.61,59.83 302.12,58.43 303.64,57.02 305.15,55.60 306.67,54.16 308.18,52.70 309.70,51.24 311.21,49.76 312.73,48.27 314.24,46.77 315.76,45.26 317.27,43.73 318.79,42.20 320.30,40.66 321.82,39.11 323.33,37.55 324.85,35.98 326.36,34.41 327.88,32.83 329.39,31.24 330.91,29.64 332.42,28.04 333.94,26.43 335.45,24.81 336.97,23.19 338.48,21.56 340.00,19.93 341.51,18.29 343.03,16.65 344.54,15.00 346.06,13.35 347.57,11.70 349.09,10.04 350.60,8.38 352.12,6.71 353.63,5.05 355.15,3.37 356.66,1.70 358.18,0.02 359.69,-1.66 361.21,-3.34 362.72,-5.02 364.24,-6.71 365.75,-8.40 367.27,-10.09 368.78,-11.78 370.30,-13.48 371.81,-15.18 373.33,-16.87 374.84,-18.57 376.36,-20.28 377.87,-21.98 379.39,-23.68 380.90,-25.39 382.42,-27.09 383.93,-28.80 385.45,-30.51 386.96,-32.22 388.48,-33.93 389.99,-35.64 391.51,-37.35 393.02,-39.07 394.54,-40.78 396.05,-42.49 397.57,-44.21 399.08,-45.92 400.60,-47.64" stroke="#0000ff" stroke-width="1.5"/>
<polyline points="36.99,177.96 38.51,177.96 40.02,177.96 41.54,177.96 43.05,177.96 44.57,177.96 46.08,177.95 47.60,177.95 49.11,177.95 50.63,177.95 52.14,177.95 53.66,177.95 55.17,177.95 56.69,177.94 58.20,177.94 59.72,177.94 61.23,177.94 62.75,177.93 64.26,177.93 65.78,177.93 67.29,177.93 68.81,177.92 70.32,177.92 71.84,177.92 73.35,177.91 74.87,177.91 76.38,177.91 77.90,177.90 79.41,177.90 80.93,177.89 82.44,177.89 83.96,177.88 85.47,177.88 86.99,177.87 88.50,177.87 90.02,177.86 91.53,177.85 93.05,177.84 94.56,177.84 96.08,177.83 97.59,177.82 99.11,177.81 100.62,177.80 102.14,177.79 103.65,177.78 105.17,177.77 106.68,177.76 108.20,177.75 109.71,177.73 111.23,177.72 112.74,177.70 114.26,177.69 115.77,177.67 117.29,177.65 118.80,177.63 120.32,177.61 121.83,177.59 123.35,177.57 124.86,177.55 126.38,177.52 127.89,177.50 129.41,177.47 130.92,177.44 132.44,177.41 133.95,177.38 135.47,177.34 136.98,177.31 138.50,177.27 140.01,177.23 141.53,177.19 143.04,177.14 144.56,177.09 146.07,177.04 147.59,176.99 149.10,176.93 150.62,176.88 152.13,176.81 153.65,176.75 155.16,176.68 156.68,176.60 158.19,176.53 159.71,176.44 161.22,176.36 162.74,176.27 164.25,176.17 165.77,176.07 167.28,175.96 168.80,175.85 170.31,175.73 171.83,175.61 173.34,175.48 174.86,175.34 176.37,175.20 177.89,175.04 179.40,174.88 180.92,174.71 182.43,174.53 183.95,174.35 185.46,174.15 186.98,173.94 188.49,173.73 190.01,173.50 191.52,173.26 193.04,173.01 194.55,172.74 196.07,172.47 197.58,172.18 199.10,171.88 200.61,171.56 202.13,171.23 203.64,170.88 205.16,170.52 206.67,170.14 208.19,169.74 209.70,169.33 211.22,168.89 212.73,168.45 214.25,167.98 215.76,167.49 217.28,166.98 218.80,166.45 220.31,165.90 221.83,165.33 223.34,164.74 224.86,164.13 226.37,163.49 227.89,162.84 229.40,162.15 230.92,161.45 232.43,160.72 233.95,159.97 235.46,159.20 236.98,158.40 238.49,157.57 240.01,156.73 241.52,155.86 243.04,154.96 244.55,154.04 246.07,153.10 247.58,152.13 249.10,151.14 250.61,150.13 252.13,149.09 253.64,148.03 255.16,146.94 256.67,145.84 258.19,144.71 259.70,143.56 261.22,142.39 262.73,141.20 264.25,139.99 265.76,138.75 267.28,137.50 268.79,136.23 270.31,134.94 271.82,133.64 273.34,132.31 274.85,130.97 276.37,129.61 277.88,128.24 279.40,126.85 280.91,125.44 282.43,124.03 283.94,122.59 285.46,121.15 286.97,119.69 288.49,118.22 290.00,116.73 291.52,115.24 293.03,113.73 294.55,112.22 296.06,110.69 297.58,109.15 299.09,107.61 300.61,106.05 302.12,104.49 303.64,102.92 305.15,101.34 306.67,99.75 308.18,98.16 309.70,96.56 311.21,94.95 312.73,93.34 314.24,91.72 315.76,90.10 317.27,88.47 318.79,86.83 320.30,85.19 321.82,83.55 323.33,81.90 324.85,80.25 326.36,78.59 327.88,76.94 329.39,75.27 330.91,73.61 332.42,71.94 333.94,70.26 335.45,68.59 336.97,66.91 338.48,65.23 340.00,63.54 341.51,61.86 343.03,60.17 344.54,58.48 346.06,56.79 347.57,55.09 349.09,53.40 350.60,51.70 352.12,50.00 353.63,48.30 355.15,46.60 356.66,44.90 358.18,43.19 359.69,41.49 361.21,39.78 362.72,38.07 364.24,36.36 365.75,34.65 367.27,32.94 368.78,31.23 370.30,29.52 371.81,27.80 373.33,26.09 374.84,24.38 376.36,22.66 377.87,20.94 379.39,19.23 380.90,17.51 382.42,15.79 383.93,14.07 385.45,12.36 386.96,10.64 388.48,8.92 389.99,7.20 391.51,5.48 393.02,3.76 394.54,2.03 396.05,0.31 397.57,-1.41 399.08,-3.13 400.60,-4.85" stroke="#00ff00" stroke-width="1.5"/>
<polyline points="36.99,177.45 38.51,177.44 40.02,177.44 41.54,177.44 43.05,177.44 44.57,177.44 46.08,177.43 47.60,177.43 49.11,177.43 50.63,177.42 52.14,177.42 53.66,177.42 55.17,177.41 56.69,177.41 58.20,177.41 59.72,177.40 61.23,177.40 62.75,177.39 64.26,177.39 65.78,177.38 67.29,177.38 68.81,177.37 70.32,177.37 71.84,177.36 73.35,177.35 74.87,177.35 76.38,177.34 77.90,177.33 79.41,177.32 80.93,177.31 82.44,177.30 83.96,177.29 85.47,177.28 86.99,177.27 88.50,177.26 90.02,177.25 91.53,177.23 93.05,177.22 94.56,177.21 96.08,177.19 97.59,177.17 99.11,177.16 100.62,177.14 102.14,177.12 103.65,177.10 105.17,177.08 106.68,177.05 108.20,177.03 109.71,177.00 111.23,176.98 112.74,176.95 114.26,176.92 115.77,176.88 117.29,176.85 118.80,176.82 120.32,176.78 121.83,176.74 123.35,176.70 124.86,176.65 126.38,176.60 127.89,176.55 129.41,176.50 130.92,176.45 132.44,176.39 133.95,176.33 135.47,176.26 136.98,176.19 138.50,176.12 140.01,176.04 141.53,175.96 143.04,175.88 144.56,175.79 146.07,175.69 147.59,175.59 149.10,175.49 150.62,175.38 152.13,175.26 153.65,175.14 155.16,175.01 156.68,174.87 158.19,174.72 159.71,174.57 161.22,174.41 162.74,174.25 164.25,174.07 165.77,173.88 167.28,173.69 168.80,173.48 170.31,173.27 171.83,173.04 173.34,172.80 174.86,172.55 176.37,172.29 177.89,172.02 179.40,171.73 180.92,171.43 182.43,171.11 183.95,170.78 185.46,170.44 186.98,170.07 188.49,169.70 190.01,169.30 191.52,168.89 193.04,168.46 194.55,168.01 196.07,167.54 197.58,167.06 199.10,166.55 200.61,166.02 202.13,165.47 203.64,164.91 205.16,164.31 206.67,163.70 208.19,163.07 209.70,162.41 211.22,161.73 212.73,161.02 214.25,160.29 215.76,159.54 217.28,158.77 218.80,157.97 220.31,157.14 221.83,156.29 223.34,155.42 224.86,154.52 226.37,153.60 227.89,152.66 229.40,151.69 230.92,150.69 232.43,149.68 233.95,148.63 235.46,147.57 236.98,146.48 238.49,145.38 240.01,144.24 241.52,143.09 243.04,141.92 244.55,140.72 246.07,139.51 247.58,138.27 249.10,137.01 250.61,135.74 252.13,134.45 253.64,133.14 255.16,131.81 256.67,130.46 258.19,129.10 259.70,127.72 261.22,126.33 262.73,124.92 264.25,123.50 265.76,122.06 267.28,120.61 268.79,119.15 270.31,117.68 271.82,116.19 273.34,114.69 274.85,113.18 276.37,111.66 277.88,110.13 279.40,108.59 280.91,107.05 282.43,105.49 283.94,103.92 285.46,102.35 286.97,100.77 288.49,99.18 290.00,97.58 291.52,95.98 293.03,94.37 294.55,92.76 296.06,91.14 297.58,89.51 299.09,87.88 300.61,86.25 302.12,84.60 303.64,82.96 305.15,81.31 306.67,79.66 308.18,78.00 309.70,76.34 311.21,74.67 312.73,73.01 314.24,71.34 315.76,69.66 317.27,67.98 318.79,66.31 320.30,64.62 321.82,62.94 323.33,61.25 324.85,59.56 326.36,57.87 327.88,56.18 329.39,54.49 330.91,52.79 332.42,51.09 333.94,49.39 335.45,47.69 336.97,45.99 338.48,44.29 340.00,42.58 341.51,40.87 343.03,39.17 344.54,37.46 346.06,35.75 347.57,34.04 349.09,32.33 350.60,30.62 352.12,28.90 353.63,27.19 355.15,25.48 356.66,23.76 358.18,22.04 359.69,20.33 361.21,18.61 362.72,16.89 364.24,15.18 365.75,13.46 367.27,11.74 368.78,10.02 370.30,8.30 371.81,6.58 373.33,4.86 374.84,3.14 376.36,1.42 377.87,-0.30 379.39,-2.03 380.90,-3.75 382.42,-5.47 383.93,-7.19 385.45,-8.92 386.96,-10.64 388.48,-12.36 389.99,-14.09 391.51,-15.81 393.02,-17.53 394.54,-19.26 396.05,-20.98 397.57,-22.71 399.08,-24.43 400.60,-26.15" stroke="#ff0000" stroke-width="1.5"/>
<polyline points="36.99,177.91 38.51,177.91 40.02,177.90 41.54,177.90 43.05,177.89 44.57,177.89 46.08,177.88 47.60,177.88 49.11,177.87 50.63,177.87 52.14,177.86 53.66,177.85 55.17,177.85 56.69,177.84 58.20,177.83 59.72,177.82 61.23,177.81 62.75,177.80 64.26,177.79 65.78,177.78 67.29,177.77 68.81,177.76 70.32,177.75 71.84,177.74 73.35,177.72 74.87,177.71 76.38,177.69 77.90,177.68 79.41,177.66 80.93,177.64 82.44,177.62 83.96,177.60 85.47,177.58 86.99,177.55 88.50,177.53 90.02,177.50 91.53,177.48 93.05,177.45 94.56,177.42 96.08,177.39 97.59,177.35 99.11,177.32 100.62,177.28 102.14,177.24 103.65,177.20 105.17,177.15 106.68,177.11 108.20,177.06 109.71,177.01 111.23,176.95 112.74,176.89 114.26,176.83 115.77,176.77 117.29,176.70 118.80,176.63 120.32,176.55 121.83,176.47 123.35,176.38 124.86,176.29 126.38,176.20 127.89,176.10 129.41,176.00 130.92,175.88 132.44,175.77 133.95,175.65 135.47,175.52 136.98,175.38 138.50,175.24 140.01,175.09 141.53,174.93 143.04,174.76 144.56,174.59 146.07,174.40 147.59,174.21 149.10,174.00 150.62,173.79 152.13,173.56 153.65,173.33 155.16,173.08 156.68,172.82 158.19,172.55 159.71,172.26 161.22,171.96 162.74,171.65 164.25,171.32 165.77,170.98 167.28,170.62 168.80,170.25 170.31,169.85 171.83,169.44 173.34,169.02 174.86,168.57 176.37,168.11 177.89,167.63 179.40,167.13 180.92,166.60 182.43,166.06 183.95,165.50 185.46,164.91 186.98,164.31 188.49,163.68 190.01,163.02 191.52,162.35 193.04,161.65 194.55,160.93 196.07,160.19 197.58,159.42 199.10,158.63 200.61,157.81 202.13,156.97 203.64,156.10 205.16,155.22 206.67,154.30 208.19,153.37 209.70,152.41 211.22,151.42 212.73,150.41 214.25,149.38 215.76,148.33 217.28,147.25 218.80,146.15 220.31,145.03 221.83,143.89 223.34,142.72 224.86,141.54 226.37,140.33 227.89,139.10 229.40,137.86 230.92,136.59 232.43,135.31 233.95,134.01 235.46,132.69 236.98,131.35 238.49,130.00 240.01,128.63 241.52,127.24 243.04,125.84 244.55,124.43 246.07,123.00 247.58,121.56 249.10,120.10 250.61,118.63 252.13,117.15 253.64,115.66 255.16,114.16 256.67,112.65 258.19,111.12 259.70,109.59 261.22,108.04 262.73,106.49 264.25,104.93 265.76,103.36 267.28,101.79 268.79,100.20 270.31,98.61 271.82,97.01 273.34,95.41 274.85,93.80 276.37,92.18 277.88,90.56 279.40,88.93 280.91,87.30 282.43,85.66 283.94,84.02 285.46,82.37 286.97,80.72 288.49,79.06 290.00,77.40 291.52,75.74 293.03,74.08 294.55,72.41 296.06,70.74 297.58,69.06 299.09,67.38 300.61,65.70 302.12,64.02 303.64,62.33 305.15,60.65 306.67,58.96 308.18,57.27 309.70,55.57 311.21,53.88 312.73,52.18 314.24,50.48 315.76,48.78 317.27,47.08 318.79,45.38 320.30,43.67 321.82,41.97 323.33,40.26 324.85,38.55 326.36,36.85 327.88,35.14 329.39,33.43 330.91,31.71 332.42,30.00 333.94,28.29 335.45,26.57 336.97,24.86 338.48,23.14 340.00,21.43 341.51,19.71 343.03,18.00 344.54,16.28 346.06,14.56 347.57,12.84 349.09,11.12 350.60,9.40 352.12,7.68 353.63,5.96 355.15,4.24 356.66,2.52 358.18,0.80 359.69,-0.92 361.21,-2.64 362.72,-4.37 364.24,-6.09 365.75,-7.81 367.27,-9.53 368.78,-11.26 370.30,-12.98 371.81,-14.70 373.33,-16.43 374.84,-18.15 376.36,-19.88 377.87,-21.60 379.39,-23.32 380.90,-25.05 382.42,-26.77 383.93,-28.50 385.45,-30.22 386.96,-31.95 388.48,-33.67 389.99,-35.40 391.51,-37.12 393.02,-38.85 394.54,-40.57 396.05,-42.30 397.57,-44.03 399.08,-45.75 400.60,-47.48" stroke="#0000ff" stroke-width="1.5"/>
<polyline points="36.99,251.94 38.51,251.93 40.02,251.91 41.54,251.90 43.05,251.89 44.57,251.88 46.08,251.86 47.60,251.85 49.11,251.83 50.63,251.82 52.14,251.80 53.66,251.78 55.17,251.76 56.69,251.74 58.20,251.72 59.72,251.69 61.23,251.67 62.75,251.64 64.26,251.62 65.78,251.59 67.29,251.56 68.81,251.52 70.32,251.49 71.84,251.45 73.35,251.42 74.87,251.38 76.38,251.33 77.90,251.29 79.41,251.24 80.93,251.19 82.44,251.14 83.96,251.08 85.47,251.02 86.99,250.96 88.50,250.90 90.02,250.83 91.53,250.75 93.05,250.68 94.56,250.59 96.08,250.51 97.59,250.42 99.11,250.32 100.62,250.22 102.14,250.12 103.65,250.00 105.17,249.89 106.68,249.76 108.20,249.63 109.71,249.49 111.23,249.35 112.74,249.20 114.26,249.04 115.77,248.87 117.29,248.69 118.80,248.50 120.32,248.31 121.83,248.10 123.35,247.88 124.86,247.66 126.38,247.42 127.89,247.17 129.41,246.91 130.92,246.63 132.44,246.34 133.95,246.04 135.47,245.72 136.98,245.39 138.50,245.05 140.01,244.68 141.53,244.31 143.04,243.91 144.56,243.50 146.07,243.07 147.59,242.62 149.10,242.15 150.62,241.67 152.13,241.16 153.65,240.63 155.16,240.09 156.68,239.52 158.19,238.93 159.71,238.32 161.22,237.68 162.74,237.02 164.25,236.35 165.77,235.64 167.28,234.92 168.80,234.17 170.31,233.39 171.83,232.60 173.34,231.77 174.86,230.93 176.37,230.06 177.89,229.17 179.40,228.25 180.92,227.31 182.43,226.34 183.95,225.35 185.46,224.34 186.98,223.30 188.49,222.24 190.01,221.16 191.52,220.06 193.04,218.93 194.55,217.78 196.07,216.61 197.58,215.42 199.10,214.21 200.61,212.98 202.13,211.73 203.64,210.46 205.16,209.17 206.67,207.87 208.19,206.55 209.70,205.20 211.22,203.85 212.73,202.48 214.25,201.09 215.76,199.68 217.28,198.27 218.80,196.83 220.31,195.39 221.83,193.93 223.34,192.46 224.86,190.98 226.37,189.48 227.89,187.98 229.40,186.46 230.92,184.94 232.43,183.40 233.95,181.85 235.46,180.30 236.98,178.74 238.49,177.17 240.01,175.59 241.52,174.00 243.04,172.41 244.55,170.81 246.07,169.21 247.58,167.59 249.10,165.97 250.61,164.35 252.13,162.72 253.64,161.09 255.16,159.45 256.67,157.81 258.19,156.16 259.70,154.51 261.22,152.85 262.73,151.19 264.25,149.53 265.76,147.86 267.28,146.19 268.79,144.52 270.31,142.84 271.82,141.16 273.34,139.48 274.85,137.80 276.37,136.11 277.88,134.43 279.40,132.74 280.91,131.05 282.43,129.35 283.94,127.66 285.46,125.96 286.97,124.26 288.49,122.56 290.00,120.86 291.52,119.15 293.03,117.45 294.55,115.74 296.06,114.04 297.58,112.33 299.09,110.62 300.61,108.91 302.12,107.20 303.64,105.49 305.15,103.78 306.67,102.06 308.18,100.35 309.70,98.63 311.21,96.92 312.73,95.20 314.24,93.49 315.76,91.77 317.27,90.05 318.79,88.33 320.30,86.61 321.82,84.90 323.33,83.18 324.85,81.46 326.36,79.74 327.88,78.01 329.39,76.29 330.91,74.57 332.42,72.85 333.94,71.13 335.45,69.41 336.97,67.68 338.48,65.96 340.00,64.24 341.51,62.52 343.03,60.79 344.54,59.07 346.06,57.34 347.57,55.62 349.09,53.90 350.60,52.17 352.12,50.45 353.63,48.72 355.15,47.00 356.66,45.27 358.18,43.55 359.69,41.82 361.21,40.10 362.72,38.37 364.24,36.65 365.75,34.92 367.27,33.20 368.78,31.47 370.30,29.75 371.81,28.02 373.33,26.29 374.84,24.57 376.36,22.84 377.87,21.12 379.39,19.39 380.90,17.66 382.42,15.94 383.93,14.21 385.45,12.49 386.96,10.76 388.48,9.03 389.99,7.31 391.51,5.58 393.02,3.85 394.54,2.13 396.05,0.40 397.57,-1.33 399.08,-3.05 400.60,-4.78" stroke="#00ff00" stroke-width="1.5"/>
<polyline points="36.99,251.26 38.51,251.24 40.02,251.22 41.54,251.20 43.05,251.17 44.57,251.15 46.08,251.12 47.60,251.09 49.11,251.06 50.63,251.03 52.14,251.00 53.66,250.96 55.17,250.92 56.69,250.88 58.20,250.84 59.72,250.80 61.23,250.75 62.75,250.70 64.26,250.65 65.78,250.59 67.29,250.54 68.81,250.47 70.32,250.41 71.84,250.34 73.35,250.27 74.87,250.19 76.38,250.11 77.90,250.03 79.41,249.94 80.93,249.84 82.44,249.74 83.96,249.64 85.47,249.53 86.99,249.41 88.50,249.29 90.02,249.16 91.53,249.02 93.05,248.88 94.56,248.73 96.08,248.57 97.59,248.40 99.11,248.22 100.62,248.04 102.14,247.84 103.65,247.64 105.17,247.43 106.68,247.20 108.20,246.96 109.71,246.71 111.23,246.45 112.74,246.18 114.26,245.89 115.77,245.59 117.29,245.28 118.80,244.95 120.32,244.60 121.83,244.24 123.35,243.87 124.86,243.47 126.38,243.06 127.89,242.63 129.41,242.19 130.92,241.72 132.44,241.23 133.95,240.73 135.47,240.20 136.98,239.66 138.50,239.09 140.01,238.50 141.53,237.89 143.04,237.25 144.56,236.60 146.07,235.92 147.59,235.21 149.10,234.49 150.62,233.74 152.13,232.96 153.65,232.16 155.16,231.34 156.68,230.49 158.19,229.62 159.71,228.73 161.22,227.81 162.74,226.86 164.25,225.90 165.77,224.90 167.28,223.89 168.80,222.85 170.31,221.79 171.83,220.70 173.34,219.59 174.86,218.46 176.37,217.31 177.89,216.14 179.40,214.95 180.92,213.73 182.43,212.50 183.95,211.24 185.46,209.97 186.98,208.68 188.49,207.37 190.01,206.04 191.52,204.70 193.04,203.34 194.55,201.96 196.07,200.57 197.58,199.16 199.10,197.74 200.61,196.30 202.13,194.85 203.64,193.39 205.16,191.92 206.67,190.43 208.19,188.94 209.70,187.43 211.22,185.91 212.73,184.38 214.25,182.84 215.76,181.29 217.28,179.74 218.80,178.17 220.31,176.60 221.83,175.02 223.34,173.43 224.86,171.84 226.37,170.23 227.89,168.63 229.40,167.01 230.92,165.39 232.43,163.77 233.95,162.13 235.46,160.50 236.98,158.86 238.49,157.21 240.01,155.56 241.52,153.91 243.04,152.25 244.55,150.59 246.07,148.93 247.58,147.26 249.10,145.59 250.61,143.92 252.13,142.24 253.64,140.56 255.16,138.88 256.67,137.20 258.19,135.51 259.70,133.82 261.22,132.13 262.73,130.44 264.25,128.74 265.76,127.05 267.28,125.35 268.79,123.65 270.31,121.95 271.82,120.25 273.34,118.54 274.85,116.84 276.37,115.13 277.88,113.43 279.40,111.72 280.91,110.01 282.43,108.30 283.94,106.59 285.46,104.87 286.97,103.16 288.49,101.45 290.00,99.73 291.52,98.02 293.03,96.30 294.55,94.59 296.06,92.87 297.58,91.15 299.09,89.44 300.61,87.72 302.12,86.00 303.64,84.28 305.15,82.56 306.67,80.84 308.18,79.12 309.70,77.40 311.21,75.68 312.73,73.95 314.24,72.23 315.76,70.51 317.27,68.79 318.79,67.07 320.30,65.34 321.82,63.62 323.33,61.90 324.85,60.17 326.36,58.45 327.88,56.73 329.39,55.00 330.91,53.28 332.42,51.55 333.94,49.83 335.45,48.10 336.97,46.38 338.48,44.66 340.00,42.93 341.51,41.20 343.03,39.48 344.54,37.75 346.06,36.03 347.57,34.30 349.09,32.58 350.60,30.85 352.12,29.13 353.63,27.40 355.15,25.68 356.66,23.95 358.18,22.22 359.69,20.50 361.21,18.77 362.72,17.05 364.24,15.32 365.75,13.59 367.27,11.87 368.78,10.14 370.30,8.41 371.81,6.69 373.33,4.96 374.84,3.23 376.36,1.51 377.87,-0.22 379.39,-1.94 380.90,-3.67 382.42,-5.40 383.93,-7.12 385.45,-8.85 386.96,-10.58 388.48,-12.30 389.99,-14.03 391.51,-15.76 393.02,-17.48 394.54,-19.21 396.05,-20.94 397.57,-22.66 399.08,-24.39 400.60,-26.12" stroke="#ff0000" stroke-width="1.5"/>
<polyline points="36.99,251.39 38.51,251.35 40.02,251.30 41.54,251.25 43.05,251.21 44.57,251.15 46.08,251.10 47.60,251.04 49.11,250.98 50.63,250.91 52.14,250.85 53.66,250.77 55.17,250.70 56.69,250.62 58.20,250.53 59.72,250.44 61.23,250.35 62.75,250.25 64.26,250.15 65.78,250.04 67.29,249.92 68.81,249.80 70.32,249.67 71.84,249.53 73.35,249.39 74.87,249.24 76.38,249.08 77.90,248.92 79.41,248.74 80.93,248.56 82.44,248.36 83.96,248.16 85.47,247.95 86.99,247.72 88.50,247.49 90.02,247.24 91.53,246.98 93.05,246.71 94.56,246.43 96.08,246.13 97.59,245.81 99.11,245.49 100.62,245.15 102.14,244.79 103.65,244.41 105.17,244.02 106.68,243.62 108.20,243.19 109.71,242.75 111.23,242.29 112.74,241.81 114.26,241.30 115.77,240.78 117.29,240.24 118.80,239.68 120.32,239.10 121.83,238.49 123.35,237.86 124.86,237.21 126.38,236.54 127.89,235.84 129.41,235.12 130.92,234.38 132.44,233.61 133.95,232.82 135.47,232.01 136.98,231.17 138.50,230.31 140.01,229.42 141.53,228.51 143.04,227.57 144.56,226.62 146.07,225.63 147.59,224.63 149.10,223.60 150.62,222.54 152.13,221.47 153.65,220.37 155.16,219.25 156.68,218.11 158.19,216.95 159.71,215.76 161.22,214.56 162.74,213.33 164.25,212.09 165.77,210.82 167.28,209.54 168.80,208.24 170.31,206.92 171.83,205.59 173.34,204.23 174.86,202.86 176.37,201.48 177.89,200.08 179.40,198.67 180.92,197.24 182.43,195.80 183.95,194.34 185.46,192.88 186.98,191.40 188.49,189.91 190.01,188.40 191.52,186.89 193.04,185.37 194.55,183.84 196.07,182.29 197.58,180.74 199.10,179.18 200.61,177.61 202.13,176.04 203.64,174.45 205.16,172.86 206.67,171.26 208.19,169.66 209.70,168.05 211.22,166.43 212.73,164.81 214.25,163.18 215.76,161.55 217.28,159.91 218.80,158.27 220.31,156.62 221.83,154.97 223.34,153.32 224.86,151.66 226.37,150.00 227.89,148.33 229.40,146.66 230.92,144.99 232.43,143.32 233.95,141.64 235.46,139.96 236.98,138.28 238.49,136.59 240.01,134.90 241.52,133.22 243.04,131.52 244.55,129.83 246.07,128.14 247.58,126.44 249.10,124.74 250.61,123.04 252.13,121.34 253.64,119.64 255.16,117.93 256.67,116.23 258.19,114.52 259.70,112.81 261.22,111.10 262.73,109.39 264.25,107.68 265.76,105.97 267.28,104.26 268.79,102.55 270.31,100.83 271.82,99.12 273.34,97.40 274.85,95.69 276.37,93.97 277.88,92.25 279.40,90.54 280.91,88.82 282.43,87.10 283.94,85.38 285.46,83.66 286.97,81.94 288.49,80.22 290.00,78.50 291.52,76.78 293.03,75.06 294.55,73.34 296.06,71.62 297.58,69.89 299.09,68.17 300.61,66.45 302.12,64.73 303.64,63.00 305.15,61.28 306.67,59.56 308.18,57.83 309.70,56.11 311.21,54.38 312.73,52.66 314.24,50.94 315.76,49.21 317.27,47.49 318.79,45.76 320.30,44.04 321.82,42.31 323.33,40.59 324.85,38.86 326.36,37.14 327.88,35.41 329.39,33.68 330.91,31.96 332.42,30.23 333.94,28.51 335.45,26.78 336.97,25.06 338.48,23.33 340.00,21.60 341.51,19.88 343.03,18.15 344.54,16.43 346.06,14.70 347.57,12.97 349.09,11.25 350.60,9.52 352.12,7.79 353.63,6.07 355.15,4.34 356.66,2.62 358.18,0.89 359.69,-0.84 361.21,-2.56 362.72,-4.29 364.24,-6.02 365.75,-7.74 367.27,-9.47 368.78,-11.20 370.30,-12.92 371.81,-14.65 373.33,-16.38 374.84,-18.10 376.36,-19.83 377.87,-21.56 379.39,-23.28 380.90,-25.01 382.42,-26.74 383.93,-28.46 385.45,-30.19 386.96,-31.92 388.48,-33.64 389.99,-35.37 391.51,-37.10 393.02,-38.82 394.54,-40.55 396.05,-42.28 397.57,-44.01 399.08,-45.73 400.60,-47.46" stroke="#0000ff" stroke-width="1.5"/>
<line x1="347.20" y1="2.10" x2="347.20" y2="285.70" stroke="#000" stroke-width="2.2" />
</g>
<text transform="translate(79.84,302.00) scale(1.0724,1)" font-size="13.0"   fill="#1c1c1c">10</text>
<text transform="translate(95.11,296.00) scale(1.1473,1)" font-size="10.2"   fill="#1c1c1c">6</text>
<text transform="translate(142.04,302.00) scale(1.0724,1)" font-size="13.0"   fill="#1c1c1c">10</text>
<text transform="translate(157.29,296.00) scale(1.1646,1)" font-size="10.2"   fill="#1c1c1c">7</text>
<text transform="translate(204.24,302.00) scale(1.0724,1)" font-size="13.0"   fill="#1c1c1c">10</text>
<text transform="translate(219.60,296.00) scale(1.1282,1)" font-size="10.2"   fill="#1c1c1c">8</text>
<text transform="translate(266.44,302.00) scale(1.0724,1)" font-size="13.0"   fill="#1c1c1c">10</text>
<text transform="translate(281.75,296.00) scale(1.1461,1)" font-size="10.2"   fill="#1c1c1c">9</text>
<text transform="translate(326.36,302.00) scale(1.0492,1)" font-size="13.0"   fill="#1c1c1c">10</text>
<text transform="translate(343.21,296.00) scale(0.8948,1)" font-size="10.2"   fill="#1c1c1c">10</text>
<text transform="translate(388.56,302.00) scale(1.0492,1)" font-size="13.0"   fill="#1c1c1c">10</text>
<text transform="translate(404.75,296.00) scale(0.8341,1)" font-size="10.2"   fill="#1c1c1c">11</text>
<text transform="translate(31.20,267.15) rotate(-90) scale(1.0724,1)" font-size="13.0"  fill="#1c1c1c">10</text>
<text transform="translate(24.90,251.90) rotate(-90) scale(1.1646,1)" font-size="10.2"  fill="#1c1c1c">7</text>
<text transform="translate(31.20,196.25) rotate(-90) scale(1.0724,1)" font-size="13.0"  fill="#1c1c1c">10</text>
<text transform="translate(24.90,180.89) rotate(-90) scale(1.1282,1)" font-size="10.2"  fill="#1c1c1c">8</text>
<text transform="translate(31.20,125.35) rotate(-90) scale(1.0724,1)" font-size="13.0"  fill="#1c1c1c">10</text>
<text transform="translate(24.90,110.03) rotate(-90) scale(1.1461,1)" font-size="10.2"  fill="#1c1c1c">9</text>
<text transform="translate(31.20,56.25) rotate(-90) scale(1.0724,1)" font-size="13.0"  fill="#1c1c1c">10</text>
<text transform="translate(24.90,39.58) rotate(-90) scale(0.8948,1)" font-size="10.2"  fill="#1c1c1c">10</text>
<text transform="translate(168.59,327.70) scale(1.0866,1)" font-size="13.0"   fill="#1c1c1c">true</text>
<text transform="translate(199.53,327.70) scale(1.0389,1)" font-size="13.0"   fill="#1c1c1c">age,</text>
<text transform="translate(232.47,327.70) scale(1.1446,1)" font-size="13.0"   fill="#1c1c1c">t</text>
<text transform="translate(249.53,327.70) scale(1.1972,1)" font-size="13.0"   fill="#1c1c1c">(yr)</text>
<text transform="translate(12.00,226.70) rotate(-90) scale(1.0807,1)" x="-0.51 5.53 12.25 19.19 23.64 31.06 38.38 42.12 49.60 55.19 58.14 64.79 68.48 71.43" y="0" font-size="13.0" fill="#1c1c1c">characteristic</text>
<text transform="translate(12.00,135.98) rotate(-90) scale(1.0559,1)" font-size="13.0"  fill="#1c1c1c">age,</text>
<text transform="translate(12.00,104.42) rotate(-90) scale(1.1975,1)" font-size="13.0" font-style="italic" fill="#1c1c1c">&#964;</text>
<text transform="translate(12.00,82.85) rotate(-90) scale(1.1804,1)" font-size="13.0"  fill="#1c1c1c">(yr)</text>
<line x1="257.35" y1="204.6" x2="283.00" y2="204.6" stroke="#000" stroke-width="1.9" stroke-linecap="round" stroke-dasharray="1.1 6.73"/>
<line x1="250.60" y1="225.60" x2="283.40" y2="225.60" stroke="#0000ff" stroke-width="1.4" />
<line x1="250.60" y1="246.70" x2="283.40" y2="246.70" stroke="#ff0000" stroke-width="1.4" />
<line x1="250.60" y1="267.80" x2="283.40" y2="267.80" stroke="#00ff00" stroke-width="1.4" />
<text transform="translate(288.23,208.60) scale(1.4660,1)" font-size="13.0"  font-style="italic" fill="#1c1c1c">&#964;</text>
<text transform="translate(297.00,208.60) scale(1.2666,1)" font-size="13.0"   fill="#1c1c1c">=</text>
<text transform="translate(307.70,208.60) scale(1.0242,1)" font-size="13.0"   fill="#1c1c1c">t</text>
<text transform="translate(288.73,229.80) scale(1.1227,1)" font-size="13.0"   fill="#1c1c1c">n</text>
<text transform="translate(297.14,229.80) scale(1.3616,1)" font-size="13.0"   fill="#1c1c1c">=</text>
<text transform="translate(307.04,229.80) scale(1.0708,1)" font-size="13.0"   fill="#1c1c1c">5</text>
<text transform="translate(288.73,250.90) scale(1.1227,1)" font-size="13.0"   fill="#1c1c1c">n</text>
<text transform="translate(297.14,250.90) scale(1.3616,1)" font-size="13.0"   fill="#1c1c1c">=</text>
<text transform="translate(307.07,250.90) scale(1.0708,1)" font-size="13.0"   fill="#1c1c1c">3</text>
<text transform="translate(288.73,272.00) scale(1.1227,1)" font-size="13.0"   fill="#1c1c1c">n</text>
<text transform="translate(297.14,272.00) scale(1.3616,1)" font-size="13.0"   fill="#1c1c1c">=</text>
<text transform="translate(306.87,272.00) scale(1.1144,1)" font-size="13.0"   fill="#1c1c1c">2</text>
<text transform="translate(350.88,243.90) scale(1.0574,1)" font-size="10.6"   fill="#1c1c1c">Hubble</text>
<text transform="translate(351.62,257.80) scale(1.0931,1)" font-size="10.6"   fill="#1c1c1c">time</text>
<text transform="translate(250.55,187.00) scale(1.1774,1)" font-size="15" stroke="#000" stroke-width="0.45" stroke-linejoin="round"  fill="#000">P</text>
<text transform="translate(261.34,191.60) scale(1.1157,1)" font-size="10.5" stroke="#000" stroke-width="0.45" stroke-linejoin="round"  fill="#000">0</text>
<text transform="translate(273.69,187.00) scale(1.3722,1)" font-size="15" stroke="#000" stroke-width="0.45" stroke-linejoin="round"  fill="#000">=</text>
<text transform="translate(291.37,187.00) scale(1.1069,1)" font-size="15" stroke="#000" stroke-width="0.45" stroke-linejoin="round"  fill="#000">3.0</text>
<text transform="translate(320.86,187.00) scale(1.0457,1)" font-size="15" stroke="#000" stroke-width="0.45" stroke-linejoin="round"  fill="#000">ms</text>
<text transform="translate(55.24,28.50) scale(0.8961,1)" font-size="13.0"   fill="#1c1c1c">B</text>
<text transform="translate(63.86,33.50) scale(1.1296,1)" font-size="10.0"   fill="#1c1c1c">0</text>
<text transform="translate(76.43,28.50) scale(1.3775,1)" font-size="13.0"   fill="#1c1c1c">=</text>
<text transform="translate(93.27,28.50) scale(1.0708,1)" font-size="13.0"   fill="#1c1c1c">3</text>
<text transform="translate(101.34,28.50) scale(1.1733,1)" font-size="13.0"   fill="#1c1c1c">&#215;</text>
<text transform="translate(112.08,28.50) scale(0.9258,1)" font-size="13.0"   fill="#1c1c1c">10</text>
<text transform="translate(126.12,22.60) scale(1.1332,1)" font-size="9.9"   fill="#1c1c1c">7</text>
<text transform="translate(138.41,28.50) scale(0.9073,1)" font-size="13.0"   fill="#1c1c1c">G</text>
<text transform="translate(55.24,102.50) scale(0.8961,1)" font-size="13.0"   fill="#1c1c1c">B</text>
<text transform="translate(63.86,107.50) scale(1.1296,1)" font-size="10.0"   fill="#1c1c1c">0</text>
<text transform="translate(76.43,102.50) scale(1.3775,1)" font-size="13.0"   fill="#1c1c1c">=</text>
<text transform="translate(93.90,102.50) scale(1.0107,1)" font-size="13.0"   fill="#1c1c1c">10</text>
<text transform="translate(109.27,96.60) scale(1.2270,1)" font-size="9.9"   fill="#1c1c1c">8</text>
<text transform="translate(121.50,102.50) scale(0.9191,1)" font-size="13.0"   fill="#1c1c1c">G</text>
<text transform="translate(55.24,169.10) scale(0.8961,1)" font-size="13.0"   fill="#1c1c1c">B</text>
<text transform="translate(63.86,174.10) scale(1.1296,1)" font-size="10.0"   fill="#1c1c1c">0</text>
<text transform="translate(76.43,169.10) scale(1.3775,1)" font-size="13.0"   fill="#1c1c1c">=</text>
<text transform="translate(93.27,169.10) scale(1.0708,1)" font-size="13.0"   fill="#1c1c1c">3</text>
<text transform="translate(101.34,169.10) scale(1.1733,1)" font-size="13.0"   fill="#1c1c1c">&#215;</text>
<text transform="translate(112.08,169.10) scale(0.9258,1)" font-size="13.0"   fill="#1c1c1c">10</text>
<text transform="translate(126.23,163.20) scale(1.0978,1)" font-size="9.9"   fill="#1c1c1c">8</text>
<text transform="translate(138.41,169.10) scale(0.9073,1)" font-size="13.0"   fill="#1c1c1c">G</text>
<text transform="translate(55.24,233.10) scale(0.8961,1)" font-size="13.0"   fill="#1c1c1c">B</text>
<text transform="translate(63.86,238.10) scale(1.1296,1)" font-size="10.0"   fill="#1c1c1c">0</text>
<text transform="translate(76.43,233.10) scale(1.3775,1)" font-size="13.0"   fill="#1c1c1c">=</text>
<text transform="translate(93.90,233.10) scale(1.0107,1)" font-size="13.0"   fill="#1c1c1c">10</text>
<text transform="translate(109.22,227.20) scale(1.2465,1)" font-size="9.9"   fill="#1c1c1c">9</text>
<text transform="translate(121.50,233.10) scale(0.9191,1)" font-size="13.0"   fill="#1c1c1c">G</text>
<rect x="461.80" y="2.10" width="360.50" height="283.60" fill="none" stroke="#2e2e2e" stroke-width="1.15"/>
<line x1="467.83" y1="2.10" x2="467.83" y2="5.80" stroke="#2e2e2e" stroke-width="1.0" />
<line x1="467.83" y1="285.70" x2="467.83" y2="282.00" stroke="#2e2e2e" stroke-width="1.0" />
<line x1="478.78" y1="2.10" x2="478.78" y2="5.80" stroke="#2e2e2e" stroke-width="1.0" />
<line x1="478.78" y1="285.70" x2="478.78" y2="282.00" stroke="#2e2e2e" stroke-width="1.0" />
<line x1="486.55" y1="2.10" x2="486.55" y2="5.80" stroke="#2e2e2e" stroke-width="1.0" />
<line x1="486.55" y1="285.70" x2="486.55" y2="282.00" stroke="#2e2e2e" stroke-width="1.0" />
<line x1="492.58" y1="2.10" x2="492.58" y2="5.80" stroke="#2e2e2e" stroke-width="1.0" />
<line x1="492.58" y1="285.70" x2="492.58" y2="282.00" stroke="#2e2e2e" stroke-width="1.0" />
<line x1="497.50" y1="2.10" x2="497.50" y2="5.80" stroke="#2e2e2e" stroke-width="1.0" />
<line x1="497.50" y1="285.70" x2="497.50" y2="282.00" stroke="#2e2e2e" stroke-width="1.0" />
<line x1="501.67" y1="2.10" x2="501.67" y2="5.80" stroke="#2e2e2e" stroke-width="1.0" />
<line x1="501.67" y1="285.70" x2="501.67" y2="282.00" stroke="#2e2e2e" stroke-width="1.0" />
<line x1="505.28" y1="2.10" x2="505.28" y2="5.80" stroke="#2e2e2e" stroke-width="1.0" />
<line x1="505.28" y1="285.70" x2="505.28" y2="282.00" stroke="#2e2e2e" stroke-width="1.0" />
<line x1="508.46" y1="2.10" x2="508.46" y2="5.80" stroke="#2e2e2e" stroke-width="1.0" />
<line x1="508.46" y1="285.70" x2="508.46" y2="282.00" stroke="#2e2e2e" stroke-width="1.0" />
<line x1="511.30" y1="2.10" x2="511.30" y2="8.30" stroke="#2e2e2e" stroke-width="1.0" />
<line x1="511.30" y1="285.70" x2="511.30" y2="279.50" stroke="#2e2e2e" stroke-width="1.0" />
<line x1="530.03" y1="2.10" x2="530.03" y2="5.80" stroke="#2e2e2e" stroke-width="1.0" />
<line x1="530.03" y1="285.70" x2="530.03" y2="282.00" stroke="#2e2e2e" stroke-width="1.0" />
<line x1="540.98" y1="2.10" x2="540.98" y2="5.80" stroke="#2e2e2e" stroke-width="1.0" />
<line x1="540.98" y1="285.70" x2="540.98" y2="282.00" stroke="#2e2e2e" stroke-width="1.0" />
<line x1="548.75" y1="2.10" x2="548.75" y2="5.80" stroke="#2e2e2e" stroke-width="1.0" />
<line x1="548.75" y1="285.70" x2="548.75" y2="282.00" stroke="#2e2e2e" stroke-width="1.0" />
<line x1="554.78" y1="2.10" x2="554.78" y2="5.80" stroke="#2e2e2e" stroke-width="1.0" />
<line x1="554.78" y1="285.70" x2="554.78" y2="282.00" stroke="#2e2e2e" stroke-width="1.0" />
<line x1="559.70" y1="2.10" x2="559.70" y2="5.80" stroke="#2e2e2e" stroke-width="1.0" />
<line x1="559.70" y1="285.70" x2="559.70" y2="282.00" stroke="#2e2e2e" stroke-width="1.0" />
<line x1="563.87" y1="2.10" x2="563.87" y2="5.80" stroke="#2e2e2e" stroke-width="1.0" />
<line x1="563.87" y1="285.70" x2="563.87" y2="282.00" stroke="#2e2e2e" stroke-width="1.0" />
<line x1="567.47" y1="2.10" x2="567.47" y2="5.80" stroke="#2e2e2e" stroke-width="1.0" />
<line x1="567.47" y1="285.70" x2="567.47" y2="282.00" stroke="#2e2e2e" stroke-width="1.0" />
<line x1="570.66" y1="2.10" x2="570.66" y2="5.80" stroke="#2e2e2e" stroke-width="1.0" />
<line x1="570.66" y1="285.70" x2="570.66" y2="282.00" stroke="#2e2e2e" stroke-width="1.0" />
<line x1="573.50" y1="2.10" x2="573.50" y2="8.30" stroke="#2e2e2e" stroke-width="1.0" />
<line x1="573.50" y1="285.70" x2="573.50" y2="279.50" stroke="#2e2e2e" stroke-width="1.0" />
<line x1="592.23" y1="2.10" x2="592.23" y2="5.80" stroke="#2e2e2e" stroke-width="1.0" />
<line x1="592.23" y1="285.70" x2="592.23" y2="282.00" stroke="#2e2e2e" stroke-width="1.0" />
<line x1="603.18" y1="2.10" x2="603.18" y2="5.80" stroke="#2e2e2e" stroke-width="1.0" />
<line x1="603.18" y1="285.70" x2="603.18" y2="282.00" stroke="#2e2e2e" stroke-width="1.0" />
<line x1="610.95" y1="2.10" x2="610.95" y2="5.80" stroke="#2e2e2e" stroke-width="1.0" />
<line x1="610.95" y1="285.70" x2="610.95" y2="282.00" stroke="#2e2e2e" stroke-width="1.0" />
<line x1="616.98" y1="2.10" x2="616.98" y2="5.80" stroke="#2e2e2e" stroke-width="1.0" />
<line x1="616.98" y1="285.70" x2="616.98" y2="282.00" stroke="#2e2e2e" stroke-width="1.0" />
<line x1="621.90" y1="2.10" x2="621.90" y2="5.80" stroke="#2e2e2e" stroke-width="1.0" />
<line x1="621.90" y1="285.70" x2="621.90" y2="282.00" stroke="#2e2e2e" stroke-width="1.0" />
<line x1="626.07" y1="2.10" x2="626.07" y2="5.80" stroke="#2e2e2e" stroke-width="1.0" />
<line x1="626.07" y1="285.70" x2="626.07" y2="282.00" stroke="#2e2e2e" stroke-width="1.0" />
<line x1="629.67" y1="2.10" x2="629.67" y2="5.80" stroke="#2e2e2e" stroke-width="1.0" />
<line x1="629.67" y1="285.70" x2="629.67" y2="282.00" stroke="#2e2e2e" stroke-width="1.0" />
<line x1="632.86" y1="2.10" x2="632.86" y2="5.80" stroke="#2e2e2e" stroke-width="1.0" />
<line x1="632.86" y1="285.70" x2="632.86" y2="282.00" stroke="#2e2e2e" stroke-width="1.0" />
<line x1="635.70" y1="2.10" x2="635.70" y2="8.30" stroke="#2e2e2e" stroke-width="1.0" />
<line x1="635.70" y1="285.70" x2="635.70" y2="279.50" stroke="#2e2e2e" stroke-width="1.0" />
<line x1="654.43" y1="2.10" x2="654.43" y2="5.80" stroke="#2e2e2e" stroke-width="1.0" />
<line x1="654.43" y1="285.70" x2="654.43" y2="282.00" stroke="#2e2e2e" stroke-width="1.0" />
<line x1="665.38" y1="2.10" x2="665.38" y2="5.80" stroke="#2e2e2e" stroke-width="1.0" />
<line x1="665.38" y1="285.70" x2="665.38" y2="282.00" stroke="#2e2e2e" stroke-width="1.0" />
<line x1="673.15" y1="2.10" x2="673.15" y2="5.80" stroke="#2e2e2e" stroke-width="1.0" />
<line x1="673.15" y1="285.70" x2="673.15" y2="282.00" stroke="#2e2e2e" stroke-width="1.0" />
<line x1="679.18" y1="2.10" x2="679.18" y2="5.80" stroke="#2e2e2e" stroke-width="1.0" />
<line x1="679.18" y1="285.70" x2="679.18" y2="282.00" stroke="#2e2e2e" stroke-width="1.0" />
<line x1="684.10" y1="2.10" x2="684.10" y2="5.80" stroke="#2e2e2e" stroke-width="1.0" />
<line x1="684.10" y1="285.70" x2="684.10" y2="282.00" stroke="#2e2e2e" stroke-width="1.0" />
<line x1="688.27" y1="2.10" x2="688.27" y2="5.80" stroke="#2e2e2e" stroke-width="1.0" />
<line x1="688.27" y1="285.70" x2="688.27" y2="282.00" stroke="#2e2e2e" stroke-width="1.0" />
<line x1="691.87" y1="2.10" x2="691.87" y2="5.80" stroke="#2e2e2e" stroke-width="1.0" />
<line x1="691.87" y1="285.70" x2="691.87" y2="282.00" stroke="#2e2e2e" stroke-width="1.0" />
<line x1="695.06" y1="2.10" x2="695.06" y2="5.80" stroke="#2e2e2e" stroke-width="1.0" />
<line x1="695.06" y1="285.70" x2="695.06" y2="282.00" stroke="#2e2e2e" stroke-width="1.0" />
<line x1="697.90" y1="2.10" x2="697.90" y2="8.30" stroke="#2e2e2e" stroke-width="1.0" />
<line x1="697.90" y1="285.70" x2="697.90" y2="279.50" stroke="#2e2e2e" stroke-width="1.0" />
<line x1="716.63" y1="2.10" x2="716.63" y2="5.80" stroke="#2e2e2e" stroke-width="1.0" />
<line x1="716.63" y1="285.70" x2="716.63" y2="282.00" stroke="#2e2e2e" stroke-width="1.0" />
<line x1="727.58" y1="2.10" x2="727.58" y2="5.80" stroke="#2e2e2e" stroke-width="1.0" />
<line x1="727.58" y1="285.70" x2="727.58" y2="282.00" stroke="#2e2e2e" stroke-width="1.0" />
<line x1="735.35" y1="2.10" x2="735.35" y2="5.80" stroke="#2e2e2e" stroke-width="1.0" />
<line x1="735.35" y1="285.70" x2="735.35" y2="282.00" stroke="#2e2e2e" stroke-width="1.0" />
<line x1="741.38" y1="2.10" x2="741.38" y2="5.80" stroke="#2e2e2e" stroke-width="1.0" />
<line x1="741.38" y1="285.70" x2="741.38" y2="282.00" stroke="#2e2e2e" stroke-width="1.0" />
<line x1="746.30" y1="2.10" x2="746.30" y2="5.80" stroke="#2e2e2e" stroke-width="1.0" />
<line x1="746.30" y1="285.70" x2="746.30" y2="282.00" stroke="#2e2e2e" stroke-width="1.0" />
<line x1="750.47" y1="2.10" x2="750.47" y2="5.80" stroke="#2e2e2e" stroke-width="1.0" />
<line x1="750.47" y1="285.70" x2="750.47" y2="282.00" stroke="#2e2e2e" stroke-width="1.0" />
<line x1="754.07" y1="2.10" x2="754.07" y2="5.80" stroke="#2e2e2e" stroke-width="1.0" />
<line x1="754.07" y1="285.70" x2="754.07" y2="282.00" stroke="#2e2e2e" stroke-width="1.0" />
<line x1="757.25" y1="2.10" x2="757.25" y2="5.80" stroke="#2e2e2e" stroke-width="1.0" />
<line x1="757.25" y1="285.70" x2="757.25" y2="282.00" stroke="#2e2e2e" stroke-width="1.0" />
<line x1="760.10" y1="2.10" x2="760.10" y2="8.30" stroke="#2e2e2e" stroke-width="1.0" />
<line x1="760.10" y1="285.70" x2="760.10" y2="279.50" stroke="#2e2e2e" stroke-width="1.0" />
<line x1="778.82" y1="2.10" x2="778.82" y2="5.80" stroke="#2e2e2e" stroke-width="1.0" />
<line x1="778.82" y1="285.70" x2="778.82" y2="282.00" stroke="#2e2e2e" stroke-width="1.0" />
<line x1="789.78" y1="2.10" x2="789.78" y2="5.80" stroke="#2e2e2e" stroke-width="1.0" />
<line x1="789.78" y1="285.70" x2="789.78" y2="282.00" stroke="#2e2e2e" stroke-width="1.0" />
<line x1="797.55" y1="2.10" x2="797.55" y2="5.80" stroke="#2e2e2e" stroke-width="1.0" />
<line x1="797.55" y1="285.70" x2="797.55" y2="282.00" stroke="#2e2e2e" stroke-width="1.0" />
<line x1="803.58" y1="2.10" x2="803.58" y2="5.80" stroke="#2e2e2e" stroke-width="1.0" />
<line x1="803.58" y1="285.70" x2="803.58" y2="282.00" stroke="#2e2e2e" stroke-width="1.0" />
<line x1="808.50" y1="2.10" x2="808.50" y2="5.80" stroke="#2e2e2e" stroke-width="1.0" />
<line x1="808.50" y1="285.70" x2="808.50" y2="282.00" stroke="#2e2e2e" stroke-width="1.0" />
<line x1="812.67" y1="2.10" x2="812.67" y2="5.80" stroke="#2e2e2e" stroke-width="1.0" />
<line x1="812.67" y1="285.70" x2="812.67" y2="282.00" stroke="#2e2e2e" stroke-width="1.0" />
<line x1="816.27" y1="2.10" x2="816.27" y2="5.80" stroke="#2e2e2e" stroke-width="1.0" />
<line x1="816.27" y1="285.70" x2="816.27" y2="282.00" stroke="#2e2e2e" stroke-width="1.0" />
<line x1="819.45" y1="2.10" x2="819.45" y2="5.80" stroke="#2e2e2e" stroke-width="1.0" />
<line x1="819.45" y1="285.70" x2="819.45" y2="282.00" stroke="#2e2e2e" stroke-width="1.0" />
<line x1="461.80" y1="285.70" x2="465.50" y2="285.70" stroke="#2e2e2e" stroke-width="1.0" />
<line x1="822.30" y1="285.70" x2="818.60" y2="285.70" stroke="#2e2e2e" stroke-width="1.0" />
<line x1="461.80" y1="278.83" x2="465.50" y2="278.83" stroke="#2e2e2e" stroke-width="1.0" />
<line x1="822.30" y1="278.83" x2="818.60" y2="278.83" stroke="#2e2e2e" stroke-width="1.0" />
<line x1="461.80" y1="273.22" x2="465.50" y2="273.22" stroke="#2e2e2e" stroke-width="1.0" />
<line x1="822.30" y1="273.22" x2="818.60" y2="273.22" stroke="#2e2e2e" stroke-width="1.0" />
<line x1="461.80" y1="268.47" x2="465.50" y2="268.47" stroke="#2e2e2e" stroke-width="1.0" />
<line x1="822.30" y1="268.47" x2="818.60" y2="268.47" stroke="#2e2e2e" stroke-width="1.0" />
<line x1="461.80" y1="264.36" x2="465.50" y2="264.36" stroke="#2e2e2e" stroke-width="1.0" />
<line x1="822.30" y1="264.36" x2="818.60" y2="264.36" stroke="#2e2e2e" stroke-width="1.0" />
<line x1="461.80" y1="260.73" x2="465.50" y2="260.73" stroke="#2e2e2e" stroke-width="1.0" />
<line x1="822.30" y1="260.73" x2="818.60" y2="260.73" stroke="#2e2e2e" stroke-width="1.0" />
<line x1="461.80" y1="257.49" x2="468.00" y2="257.49" stroke="#2e2e2e" stroke-width="1.0" />
<line x1="822.30" y1="257.49" x2="816.10" y2="257.49" stroke="#2e2e2e" stroke-width="1.0" />
<line x1="461.80" y1="236.14" x2="465.50" y2="236.14" stroke="#2e2e2e" stroke-width="1.0" />
<line x1="822.30" y1="236.14" x2="818.60" y2="236.14" stroke="#2e2e2e" stroke-width="1.0" />
<line x1="461.80" y1="223.66" x2="465.50" y2="223.66" stroke="#2e2e2e" stroke-width="1.0" />
<line x1="822.30" y1="223.66" x2="818.60" y2="223.66" stroke="#2e2e2e" stroke-width="1.0" />
<line x1="461.80" y1="214.80" x2="465.50" y2="214.80" stroke="#2e2e2e" stroke-width="1.0" />
<line x1="822.30" y1="214.80" x2="818.60" y2="214.80" stroke="#2e2e2e" stroke-width="1.0" />
<line x1="461.80" y1="207.93" x2="465.50" y2="207.93" stroke="#2e2e2e" stroke-width="1.0" />
<line x1="822.30" y1="207.93" x2="818.60" y2="207.93" stroke="#2e2e2e" stroke-width="1.0" />
<line x1="461.80" y1="202.32" x2="465.50" y2="202.32" stroke="#2e2e2e" stroke-width="1.0" />
<line x1="822.30" y1="202.32" x2="818.60" y2="202.32" stroke="#2e2e2e" stroke-width="1.0" />
<line x1="461.80" y1="197.57" x2="465.50" y2="197.57" stroke="#2e2e2e" stroke-width="1.0" />
<line x1="822.30" y1="197.57" x2="818.60" y2="197.57" stroke="#2e2e2e" stroke-width="1.0" />
<line x1="461.80" y1="193.46" x2="465.50" y2="193.46" stroke="#2e2e2e" stroke-width="1.0" />
<line x1="822.30" y1="193.46" x2="818.60" y2="193.46" stroke="#2e2e2e" stroke-width="1.0" />
<line x1="461.80" y1="189.83" x2="465.50" y2="189.83" stroke="#2e2e2e" stroke-width="1.0" />
<line x1="822.30" y1="189.83" x2="818.60" y2="189.83" stroke="#2e2e2e" stroke-width="1.0" />
<line x1="461.80" y1="186.59" x2="468.00" y2="186.59" stroke="#2e2e2e" stroke-width="1.0" />
<line x1="822.30" y1="186.59" x2="816.10" y2="186.59" stroke="#2e2e2e" stroke-width="1.0" />
<line x1="461.80" y1="165.24" x2="465.50" y2="165.24" stroke="#2e2e2e" stroke-width="1.0" />
<line x1="822.30" y1="165.24" x2="818.60" y2="165.24" stroke="#2e2e2e" stroke-width="1.0" />
<line x1="461.80" y1="152.76" x2="465.50" y2="152.76" stroke="#2e2e2e" stroke-width="1.0" />
<line x1="822.30" y1="152.76" x2="818.60" y2="152.76" stroke="#2e2e2e" stroke-width="1.0" />
<line x1="461.80" y1="143.90" x2="465.50" y2="143.90" stroke="#2e2e2e" stroke-width="1.0" />
<line x1="822.30" y1="143.90" x2="818.60" y2="143.90" stroke="#2e2e2e" stroke-width="1.0" />
<line x1="461.80" y1="137.03" x2="465.50" y2="137.03" stroke="#2e2e2e" stroke-width="1.0" />
<line x1="822.30" y1="137.03" x2="818.60" y2="137.03" stroke="#2e2e2e" stroke-width="1.0" />
<line x1="461.80" y1="131.42" x2="465.50" y2="131.42" stroke="#2e2e2e" stroke-width="1.0" />
<line x1="822.30" y1="131.42" x2="818.60" y2="131.42" stroke="#2e2e2e" stroke-width="1.0" />
<line x1="461.80" y1="126.67" x2="465.50" y2="126.67" stroke="#2e2e2e" stroke-width="1.0" />
<line x1="822.30" y1="126.67" x2="818.60" y2="126.67" stroke="#2e2e2e" stroke-width="1.0" />
<line x1="461.80" y1="122.56" x2="465.50" y2="122.56" stroke="#2e2e2e" stroke-width="1.0" />
<line x1="822.30" y1="122.56" x2="818.60" y2="122.56" stroke="#2e2e2e" stroke-width="1.0" />
<line x1="461.80" y1="118.93" x2="465.50" y2="118.93" stroke="#2e2e2e" stroke-width="1.0" />
<line x1="822.30" y1="118.93" x2="818.60" y2="118.93" stroke="#2e2e2e" stroke-width="1.0" />
<line x1="461.80" y1="115.69" x2="468.00" y2="115.69" stroke="#2e2e2e" stroke-width="1.0" />
<line x1="822.30" y1="115.69" x2="816.10" y2="115.69" stroke="#2e2e2e" stroke-width="1.0" />
<line x1="461.80" y1="94.34" x2="465.50" y2="94.34" stroke="#2e2e2e" stroke-width="1.0" />
<line x1="822.30" y1="94.34" x2="818.60" y2="94.34" stroke="#2e2e2e" stroke-width="1.0" />
<line x1="461.80" y1="81.86" x2="465.50" y2="81.86" stroke="#2e2e2e" stroke-width="1.0" />
<line x1="822.30" y1="81.86" x2="818.60" y2="81.86" stroke="#2e2e2e" stroke-width="1.0" />
<line x1="461.80" y1="73.00" x2="465.50" y2="73.00" stroke="#2e2e2e" stroke-width="1.0" />
<line x1="822.30" y1="73.00" x2="818.60" y2="73.00" stroke="#2e2e2e" stroke-width="1.0" />
<line x1="461.80" y1="66.13" x2="465.50" y2="66.13" stroke="#2e2e2e" stroke-width="1.0" />
<line x1="822.30" y1="66.13" x2="818.60" y2="66.13" stroke="#2e2e2e" stroke-width="1.0" />
<line x1="461.80" y1="60.52" x2="465.50" y2="60.52" stroke="#2e2e2e" stroke-width="1.0" />
<line x1="822.30" y1="60.52" x2="818.60" y2="60.52" stroke="#2e2e2e" stroke-width="1.0" />
<line x1="461.80" y1="55.77" x2="465.50" y2="55.77" stroke="#2e2e2e" stroke-width="1.0" />
<line x1="822.30" y1="55.77" x2="818.60" y2="55.77" stroke="#2e2e2e" stroke-width="1.0" />
<line x1="461.80" y1="51.66" x2="465.50" y2="51.66" stroke="#2e2e2e" stroke-width="1.0" />
<line x1="822.30" y1="51.66" x2="818.60" y2="51.66" stroke="#2e2e2e" stroke-width="1.0" />
<line x1="461.80" y1="48.03" x2="465.50" y2="48.03" stroke="#2e2e2e" stroke-width="1.0" />
<line x1="822.30" y1="48.03" x2="818.60" y2="48.03" stroke="#2e2e2e" stroke-width="1.0" />
<line x1="461.80" y1="44.79" x2="468.00" y2="44.79" stroke="#2e2e2e" stroke-width="1.0" />
<line x1="822.30" y1="44.79" x2="816.10" y2="44.79" stroke="#2e2e2e" stroke-width="1.0" />
<line x1="461.80" y1="23.44" x2="465.50" y2="23.44" stroke="#2e2e2e" stroke-width="1.0" />
<line x1="822.30" y1="23.44" x2="818.60" y2="23.44" stroke="#2e2e2e" stroke-width="1.0" />
<line x1="461.80" y1="10.96" x2="465.50" y2="10.96" stroke="#2e2e2e" stroke-width="1.0" />
<line x1="822.30" y1="10.96" x2="818.60" y2="10.96" stroke="#2e2e2e" stroke-width="1.0" />
<line x1="461.80" y1="2.10" x2="465.50" y2="2.10" stroke="#2e2e2e" stroke-width="1.0" />
<line x1="822.30" y1="2.10" x2="818.60" y2="2.10" stroke="#2e2e2e" stroke-width="1.0" />
<g clip-path="url(#c1)" fill="none" stroke-linejoin="round">
<line x1="553.56" y1="280.22" x2="822.30" y2="-26.11" stroke="#000" stroke-width="1.8" stroke-linecap="round" stroke-dasharray="1.3 6.54"/>

<polyline points="458.69,78.86 460.21,78.86 461.72,78.86 463.24,78.86 464.75,78.86 466.27,78.86 467.78,78.86 469.30,78.86 470.81,78.86 472.33,78.86 473.84,78.86 475.36,78.86 476.87,78.86 478.39,78.86 479.90,78.86 481.42,78.86 482.93,78.86 484.45,78.86 485.96,78.86 487.48,78.86 488.99,78.86 490.51,78.86 492.02,78.86 493.54,78.86 495.05,78.86 496.57,78.86 498.08,78.86 499.60,78.86 501.11,78.86 502.63,78.86 504.14,78.86 505.66,78.86 507.17,78.86 508.69,78.86 510.20,78.86 511.72,78.86 513.23,78.86 514.75,78.86 516.26,78.86 517.78,78.86 519.29,78.86 520.81,78.86 522.32,78.86 523.84,78.86 525.35,78.86 526.87,78.86 528.38,78.86 529.90,78.85 531.41,78.85 532.93,78.85 534.44,78.85 535.96,78.85 537.47,78.85 538.99,78.85 540.50,78.85 542.02,78.85 543.53,78.85 545.05,78.85 546.56,78.85 548.08,78.85 549.59,78.84 551.11,78.84 552.62,78.84 554.14,78.84 555.65,78.84 557.17,78.84 558.68,78.84 560.20,78.84 561.71,78.83 563.23,78.83 564.74,78.83 566.26,78.83 567.77,78.83 569.29,78.82 570.80,78.82 572.32,78.82 573.83,78.82 575.35,78.81 576.86,78.81 578.38,78.81 579.89,78.80 581.41,78.80 582.92,78.80 584.44,78.79 585.95,78.79 587.47,78.79 588.98,78.78 590.50,78.78 592.01,78.77 593.53,78.77 595.04,78.76 596.56,78.75 598.07,78.75 599.59,78.74 601.10,78.73 602.62,78.73 604.13,78.72 605.65,78.71 607.16,78.70 608.68,78.69 610.19,78.68 611.71,78.67 613.22,78.66 614.74,78.65 616.25,78.64 617.77,78.62 619.28,78.61 620.80,78.59 622.31,78.58 623.83,78.56 625.34,78.55 626.86,78.53 628.37,78.51 629.89,78.49 631.40,78.47 632.92,78.44 634.43,78.42 635.95,78.39 637.46,78.37 638.98,78.34 640.50,78.31 642.01,78.28 643.53,78.24 645.04,78.21 646.56,78.17 648.07,78.13 649.59,78.09 651.10,78.05 652.62,78.00 654.13,77.95 655.65,77.90 657.16,77.84 658.68,77.78 660.19,77.72 661.71,77.66 663.22,77.59 664.74,77.52 666.25,77.44 667.77,77.36 669.28,77.28 670.80,77.19 672.31,77.10 673.83,77.00 675.34,76.89 676.86,76.78 678.37,76.67 679.89,76.55 681.40,76.42 682.92,76.28 684.43,76.14 685.95,75.99 687.46,75.83 688.98,75.67 690.49,75.49 692.01,75.31 693.52,75.11 695.04,74.91 696.55,74.70 698.07,74.47 699.58,74.24 701.10,73.99 702.61,73.73 704.13,73.46 705.64,73.18 707.16,72.88 708.67,72.57 710.19,72.24 711.70,71.90 713.22,71.55 714.73,71.17 716.25,70.78 717.76,70.38 719.28,69.95 720.79,69.51 722.31,69.05 723.82,68.57 725.34,68.07 726.85,67.55 728.37,67.01 729.88,66.45 731.40,65.86 732.91,65.26 734.43,64.63 735.94,63.98 737.46,63.31 738.97,62.62 740.49,61.90 742.00,61.15 743.52,60.39 745.03,59.60 746.55,58.79 748.06,57.95 749.58,57.09 751.09,56.20 752.61,55.29 754.12,54.36 755.64,53.40 757.15,52.42 758.67,51.41 760.18,50.38 761.70,49.33 763.21,48.26 764.73,47.16 766.24,46.04 767.76,44.90 769.27,43.74 770.79,42.55 772.30,41.35 773.82,40.13 775.33,38.88 776.85,37.62 778.36,36.34 779.88,35.04 781.39,33.72 782.91,32.38 784.42,31.03 785.94,29.66 787.45,28.28 788.97,26.88 790.48,25.47 792.00,24.04 793.51,22.60 795.03,21.15 796.54,19.68 798.06,18.20 799.57,16.71 801.09,15.21 802.60,13.70 804.12,12.17 805.63,10.64 807.15,9.10 808.66,7.55 810.18,5.99 811.69,4.42 813.21,2.85 814.72,1.26 816.24,-0.33 817.75,-1.93 819.27,-3.53 820.78,-5.14 822.30,-6.76" stroke="#00ff00" stroke-width="1.5"/>
<polyline points="458.69,78.36 460.21,78.36 461.72,78.36 463.24,78.36 464.75,78.36 466.27,78.36 467.78,78.36 469.30,78.36 470.81,78.36 472.33,78.36 473.84,78.36 475.36,78.36 476.87,78.36 478.39,78.36 479.90,78.36 481.42,78.36 482.93,78.36 484.45,78.36 485.96,78.36 487.48,78.36 488.99,78.36 490.51,78.36 492.02,78.36 493.54,78.36 495.05,78.36 496.57,78.36 498.08,78.36 499.60,78.36 501.11,78.36 502.63,78.36 504.14,78.36 505.66,78.36 507.17,78.36 508.69,78.36 510.20,78.36 511.72,78.35 513.23,78.35 514.75,78.35 516.26,78.35 517.78,78.35 519.29,78.35 520.81,78.35 522.32,78.35 523.84,78.35 525.35,78.35 526.87,78.35 528.38,78.35 529.90,78.35 531.41,78.34 532.93,78.34 534.44,78.34 535.96,78.34 537.47,78.34 538.99,78.34 540.50,78.34 542.02,78.34 543.53,78.33 545.05,78.33 546.56,78.33 548.08,78.33 549.59,78.33 551.11,78.32 552.62,78.32 554.14,78.32 555.65,78.32 557.17,78.31 558.68,78.31 560.20,78.31 561.71,78.31 563.23,78.30 564.74,78.30 566.26,78.29 567.77,78.29 569.29,78.29 570.80,78.28 572.32,78.28 573.83,78.27 575.35,78.27 576.86,78.26 578.38,78.26 579.89,78.25 581.41,78.24 582.92,78.24 584.44,78.23 585.95,78.22 587.47,78.21 588.98,78.20 590.50,78.19 592.01,78.18 593.53,78.17 595.04,78.16 596.56,78.15 598.07,78.14 599.59,78.13 601.10,78.11 602.62,78.10 604.13,78.08 605.65,78.07 607.16,78.05 608.68,78.03 610.19,78.01 611.71,77.99 613.22,77.97 614.74,77.95 616.25,77.92 617.77,77.90 619.28,77.87 620.80,77.84 622.31,77.82 623.83,77.78 625.34,77.75 626.86,77.72 628.37,77.68 629.89,77.64 631.40,77.60 632.92,77.55 634.43,77.51 635.95,77.46 637.46,77.41 638.98,77.35 640.50,77.30 642.01,77.24 643.53,77.17 645.04,77.11 646.56,77.03 648.07,76.96 649.59,76.88 651.10,76.80 652.62,76.71 654.13,76.62 655.65,76.52 657.16,76.41 658.68,76.31 660.19,76.19 661.71,76.07 663.22,75.94 664.74,75.81 666.25,75.67 667.77,75.52 669.28,75.36 670.80,75.20 672.31,75.02 673.83,74.84 675.34,74.65 676.86,74.45 678.37,74.24 679.89,74.02 681.40,73.78 682.92,73.54 684.43,73.28 685.95,73.01 687.46,72.73 688.98,72.43 690.49,72.12 692.01,71.80 693.52,71.46 695.04,71.10 696.55,70.73 698.07,70.34 699.58,69.94 701.10,69.52 702.61,69.07 704.13,68.61 705.64,68.14 707.16,67.64 708.67,67.12 710.19,66.58 711.70,66.02 713.22,65.43 714.73,64.83 716.25,64.20 717.76,63.55 719.28,62.88 720.79,62.19 722.31,61.47 723.82,60.73 725.34,59.96 726.85,59.17 728.37,58.35 729.88,57.51 731.40,56.65 732.91,55.76 734.43,54.85 735.94,53.91 737.46,52.95 738.97,51.97 740.49,50.96 742.00,49.93 743.52,48.88 745.03,47.80 746.55,46.70 748.06,45.58 749.58,44.43 751.09,43.27 752.61,42.08 754.12,40.87 755.64,39.64 757.15,38.39 758.67,37.13 760.18,35.84 761.70,34.54 763.21,33.22 764.73,31.88 766.24,30.52 767.76,29.15 769.27,27.76 770.79,26.36 772.30,24.94 773.82,23.51 775.33,22.07 776.85,20.61 778.36,19.14 779.88,17.66 781.39,16.17 782.91,14.66 784.42,13.14 785.94,11.62 787.45,10.08 788.97,8.54 790.48,6.99 792.00,5.42 793.51,3.85 795.03,2.27 796.54,0.69 798.06,-0.90 799.57,-2.50 801.09,-4.11 802.60,-5.72 804.12,-7.34 805.63,-8.96 807.15,-10.59 808.66,-12.23 810.18,-13.87 811.69,-15.51 813.21,-17.16 814.72,-18.81 816.24,-20.46 817.75,-22.12 819.27,-23.79 820.78,-25.45 822.30,-27.12" stroke="#ff0000" stroke-width="1.5"/>
<polyline points="458.69,78.86 460.21,78.86 461.72,78.86 463.24,78.86 464.75,78.86 466.27,78.86 467.78,78.86 469.30,78.86 470.81,78.86 472.33,78.86 473.84,78.86 475.36,78.86 476.87,78.86 478.39,78.86 479.90,78.86 481.42,78.86 482.93,78.86 484.45,78.86 485.96,78.86 487.48,78.86 488.99,78.86 490.51,78.86 492.02,78.85 493.54,78.85 495.05,78.85 496.57,78.85 498.08,78.85 499.60,78.85 501.11,78.85 502.63,78.85 504.14,78.85 505.66,78.85 507.17,78.85 508.69,78.85 510.20,78.85 511.72,78.84 513.23,78.84 514.75,78.84 516.26,78.84 517.78,78.84 519.29,78.84 520.81,78.84 522.32,78.84 523.84,78.83 525.35,78.83 526.87,78.83 528.38,78.83 529.90,78.83 531.41,78.82 532.93,78.82 534.44,78.82 535.96,78.82 537.47,78.81 538.99,78.81 540.50,78.81 542.02,78.81 543.53,78.80 545.05,78.80 546.56,78.79 548.08,78.79 549.59,78.79 551.11,78.78 552.62,78.78 554.14,78.77 555.65,78.77 557.17,78.76 558.68,78.76 560.20,78.75 561.71,78.74 563.23,78.74 564.74,78.73 566.26,78.72 567.77,78.71 569.29,78.70 570.80,78.69 572.32,78.68 573.83,78.67 575.35,78.66 576.86,78.65 578.38,78.64 579.89,78.63 581.41,78.61 582.92,78.60 584.44,78.58 585.95,78.57 587.47,78.55 588.98,78.53 590.50,78.51 592.01,78.49 593.53,78.47 595.04,78.45 596.56,78.43 598.07,78.40 599.59,78.37 601.10,78.35 602.62,78.32 604.13,78.29 605.65,78.25 607.16,78.22 608.68,78.18 610.19,78.14 611.71,78.10 613.22,78.06 614.74,78.01 616.25,77.96 617.77,77.91 619.28,77.86 620.80,77.80 622.31,77.74 623.83,77.68 625.34,77.61 626.86,77.54 628.37,77.47 629.89,77.39 631.40,77.30 632.92,77.22 634.43,77.12 635.95,77.03 637.46,76.92 638.98,76.81 640.50,76.70 642.01,76.58 643.53,76.45 645.04,76.32 646.56,76.18 648.07,76.03 649.59,75.88 651.10,75.71 652.62,75.54 654.13,75.36 655.65,75.17 657.16,74.97 658.68,74.76 660.19,74.54 661.71,74.31 663.22,74.06 664.74,73.81 666.25,73.54 667.77,73.26 669.28,72.97 670.80,72.66 672.31,72.34 673.83,72.00 675.34,71.65 676.86,71.28 678.37,70.90 679.89,70.49 681.40,70.07 682.92,69.64 684.43,69.18 685.95,68.71 687.46,68.21 688.98,67.70 690.49,67.16 692.01,66.61 693.52,66.03 695.04,65.43 696.55,64.81 698.07,64.17 699.58,63.50 701.10,62.81 702.61,62.10 704.13,61.37 705.64,60.61 707.16,59.83 708.67,59.02 710.19,58.19 711.70,57.33 713.22,56.45 714.73,55.55 716.25,54.62 717.76,53.67 719.28,52.70 720.79,51.70 722.31,50.68 723.82,49.63 725.34,48.56 726.85,47.47 728.37,46.36 729.88,45.22 731.40,44.07 732.91,42.89 734.43,41.69 735.94,40.47 737.46,39.24 738.97,37.98 740.49,36.70 742.00,35.41 743.52,34.09 745.03,32.76 746.55,31.42 748.06,30.05 749.58,28.67 751.09,27.28 752.61,25.87 754.12,24.45 755.64,23.01 757.15,21.56 758.67,20.10 760.18,18.62 761.70,17.13 763.21,15.64 764.73,14.13 766.24,12.61 767.76,11.08 769.27,9.54 770.79,7.99 772.30,6.43 773.82,4.87 775.33,3.29 776.85,1.71 778.36,0.12 779.88,-1.47 781.39,-3.08 782.91,-4.69 784.42,-6.30 785.94,-7.92 787.45,-9.55 788.97,-11.18 790.48,-12.81 792.00,-14.45 793.51,-16.10 795.03,-17.75 796.54,-19.40 798.06,-21.06 799.57,-22.72 801.09,-24.38 802.60,-26.05 804.12,-27.72 805.63,-29.40 807.15,-31.07 808.66,-32.75 810.18,-34.43 811.69,-36.12 813.21,-37.81 814.72,-39.49 816.24,-41.18 817.75,-42.88 819.27,-44.57 820.78,-46.27 822.30,-47.97" stroke="#0000ff" stroke-width="1.5"/>
<polyline points="458.69,110.32 460.21,110.32 461.72,110.32 463.24,110.32 464.75,110.32 466.27,110.32 467.78,110.32 469.30,110.32 470.81,110.32 472.33,110.32 473.84,110.32 475.36,110.32 476.87,110.32 478.39,110.32 479.90,110.32 481.42,110.32 482.93,110.32 484.45,110.32 485.96,110.32 487.48,110.32 488.99,110.32 490.51,110.32 492.02,110.32 493.54,110.32 495.05,110.31 496.57,110.31 498.08,110.31 499.60,110.31 501.11,110.31 502.63,110.31 504.14,110.31 505.66,110.31 507.17,110.31 508.69,110.31 510.20,110.31 511.72,110.31 513.23,110.31 514.75,110.31 516.26,110.31 517.78,110.31 519.29,110.30 520.81,110.30 522.32,110.30 523.84,110.30 525.35,110.30 526.87,110.30 528.38,110.30 529.90,110.30 531.41,110.29 532.93,110.29 534.44,110.29 535.96,110.29 537.47,110.29 538.99,110.29 540.50,110.28 542.02,110.28 543.53,110.28 545.05,110.28 546.56,110.27 548.08,110.27 549.59,110.27 551.11,110.27 552.62,110.26 554.14,110.26 555.65,110.25 557.17,110.25 558.68,110.25 560.20,110.24 561.71,110.24 563.23,110.23 564.74,110.23 566.26,110.22 567.77,110.22 569.29,110.21 570.80,110.20 572.32,110.20 573.83,110.19 575.35,110.18 576.86,110.17 578.38,110.17 579.89,110.16 581.41,110.15 582.92,110.14 584.44,110.13 585.95,110.12 587.47,110.10 588.98,110.09 590.50,110.08 592.01,110.06 593.53,110.05 595.04,110.03 596.56,110.02 598.07,110.00 599.59,109.98 601.10,109.96 602.62,109.94 604.13,109.92 605.65,109.90 607.16,109.87 608.68,109.85 610.19,109.82 611.71,109.79 613.22,109.76 614.74,109.73 616.25,109.69 617.77,109.66 619.28,109.62 620.80,109.58 622.31,109.54 623.83,109.49 625.34,109.45 626.86,109.40 628.37,109.34 629.89,109.29 631.40,109.23 632.92,109.17 634.43,109.10 635.95,109.03 637.46,108.96 638.98,108.88 640.50,108.80 642.01,108.72 643.53,108.63 645.04,108.53 646.56,108.43 648.07,108.33 649.59,108.22 651.10,108.10 652.62,107.98 654.13,107.85 655.65,107.71 657.16,107.57 658.68,107.41 660.19,107.25 661.71,107.09 663.22,106.91 664.74,106.72 666.25,106.53 667.77,106.32 669.28,106.11 670.80,105.88 672.31,105.65 673.83,105.40 675.34,105.14 676.86,104.86 678.37,104.57 679.89,104.27 681.40,103.96 682.92,103.63 684.43,103.29 685.95,102.92 687.46,102.55 688.98,102.16 690.49,101.74 692.01,101.32 693.52,100.87 695.04,100.40 696.55,99.92 698.07,99.42 699.58,98.89 701.10,98.35 702.61,97.78 704.13,97.19 705.64,96.58 707.16,95.95 708.67,95.30 710.19,94.62 711.70,93.92 713.22,93.20 714.73,92.45 716.25,91.68 717.76,90.88 719.28,90.07 720.79,89.22 722.31,88.36 723.82,87.46 725.34,86.55 726.85,85.61 728.37,84.65 729.88,83.66 731.40,82.65 732.91,81.62 734.43,80.56 735.94,79.48 737.46,78.38 738.97,77.25 740.49,76.11 742.00,74.94 743.52,73.75 745.03,72.55 746.55,71.32 748.06,70.07 749.58,68.80 751.09,67.52 752.61,66.21 754.12,64.89 755.64,63.55 757.15,62.20 758.67,60.83 760.18,59.44 761.70,58.04 763.21,56.62 764.73,55.19 766.24,53.75 767.76,52.29 769.27,50.82 770.79,49.34 772.30,47.85 773.82,46.34 775.33,44.83 776.85,43.30 778.36,41.77 779.88,40.22 781.39,38.67 782.91,37.11 784.42,35.54 785.94,33.96 787.45,32.38 788.97,30.78 790.48,29.19 792.00,27.58 793.51,25.97 795.03,24.35 796.54,22.73 798.06,21.10 799.57,19.47 801.09,17.83 802.60,16.19 804.12,14.54 805.63,12.89 807.15,11.23 808.66,9.57 810.18,7.91 811.69,6.24 813.21,4.57 814.72,2.90 816.24,1.23 817.75,-0.45 819.27,-2.13 820.78,-3.82 822.30,-5.50" stroke="#00ff00" stroke-width="1.5"/>
<polyline points="458.69,109.82 460.21,109.82 461.72,109.82 463.24,109.82 464.75,109.82 466.27,109.82 467.78,109.82 469.30,109.82 470.81,109.82 472.33,109.82 473.84,109.82 475.36,109.82 476.87,109.82 478.39,109.81 479.90,109.81 481.42,109.81 482.93,109.81 484.45,109.81 485.96,109.81 487.48,109.81 488.99,109.81 490.51,109.81 492.02,109.81 493.54,109.81 495.05,109.81 496.57,109.81 498.08,109.81 499.60,109.81 501.11,109.80 502.63,109.80 504.14,109.80 505.66,109.80 507.17,109.80 508.69,109.80 510.20,109.80 511.72,109.80 513.23,109.80 514.75,109.79 516.26,109.79 517.78,109.79 519.29,109.79 520.81,109.79 522.32,109.78 523.84,109.78 525.35,109.78 526.87,109.78 528.38,109.77 529.90,109.77 531.41,109.77 532.93,109.77 534.44,109.76 535.96,109.76 537.47,109.76 538.99,109.75 540.50,109.75 542.02,109.74 543.53,109.74 545.05,109.73 546.56,109.73 548.08,109.72 549.59,109.72 551.11,109.71 552.62,109.71 554.14,109.70 555.65,109.69 557.17,109.68 558.68,109.68 560.20,109.67 561.71,109.66 563.23,109.65 564.74,109.64 566.26,109.63 567.77,109.62 569.29,109.61 570.80,109.59 572.32,109.58 573.83,109.57 575.35,109.55 576.86,109.54 578.38,109.52 579.89,109.50 581.41,109.49 582.92,109.47 584.44,109.45 585.95,109.42 587.47,109.40 588.98,109.38 590.50,109.35 592.01,109.33 593.53,109.30 595.04,109.27 596.56,109.23 598.07,109.20 599.59,109.17 601.10,109.13 602.62,109.09 604.13,109.05 605.65,109.00 607.16,108.96 608.68,108.91 610.19,108.86 611.71,108.80 613.22,108.74 614.74,108.68 616.25,108.62 617.77,108.55 619.28,108.48 620.80,108.40 622.31,108.32 623.83,108.24 625.34,108.15 626.86,108.05 628.37,107.95 629.89,107.85 631.40,107.74 632.92,107.62 634.43,107.50 635.95,107.37 637.46,107.24 638.98,107.09 640.50,106.94 642.01,106.79 643.53,106.62 645.04,106.44 646.56,106.26 648.07,106.07 649.59,105.86 651.10,105.65 652.62,105.42 654.13,105.19 655.65,104.94 657.16,104.68 658.68,104.41 660.19,104.12 661.71,103.83 663.22,103.51 664.74,103.18 666.25,102.84 667.77,102.48 669.28,102.11 670.80,101.72 672.31,101.31 673.83,100.88 675.34,100.44 676.86,99.97 678.37,99.49 679.89,98.98 681.40,98.46 682.92,97.92 684.43,97.35 685.95,96.76 687.46,96.16 688.98,95.52 690.49,94.87 692.01,94.19 693.52,93.49 695.04,92.77 696.55,92.02 698.07,91.25 699.58,90.45 701.10,89.63 702.61,88.79 704.13,87.92 705.64,87.03 707.16,86.11 708.67,85.17 710.19,84.20 711.70,83.21 713.22,82.20 714.73,81.16 716.25,80.10 717.76,79.02 719.28,77.92 720.79,76.79 722.31,75.64 723.82,74.47 725.34,73.28 726.85,72.06 728.37,70.83 729.88,69.58 731.40,68.31 732.91,67.02 734.43,65.71 735.94,64.39 737.46,63.04 738.97,61.69 740.49,60.31 742.00,58.92 743.52,57.51 745.03,56.09 746.55,54.66 748.06,53.21 749.58,51.75 751.09,50.28 752.61,48.80 754.12,47.30 755.64,45.79 757.15,44.27 758.67,42.75 760.18,41.21 761.70,39.66 763.21,38.11 764.73,36.54 766.24,34.97 767.76,33.39 769.27,31.80 770.79,30.21 772.30,28.61 773.82,27.00 775.33,25.39 776.85,23.77 778.36,22.14 779.88,20.51 781.39,18.88 782.91,17.24 784.42,15.59 785.94,13.94 787.45,12.29 788.97,10.64 790.48,8.98 792.00,7.31 793.51,5.64 795.03,3.97 796.54,2.30 798.06,0.62 799.57,-1.05 801.09,-2.74 802.60,-4.42 804.12,-6.11 805.63,-7.79 807.15,-9.49 808.66,-11.18 810.18,-12.87 811.69,-14.57 813.21,-16.27 814.72,-17.96 816.24,-19.67 817.75,-21.37 819.27,-23.07 820.78,-24.78 822.30,-26.48" stroke="#ff0000" stroke-width="1.5"/>
<polyline points="458.69,110.31 460.21,110.31 461.72,110.31 463.24,110.31 464.75,110.31 466.27,110.31 467.78,110.31 469.30,110.31 470.81,110.31 472.33,110.31 473.84,110.31 475.36,110.31 476.87,110.31 478.39,110.31 479.90,110.31 481.42,110.30 482.93,110.30 484.45,110.30 485.96,110.30 487.48,110.30 488.99,110.30 490.51,110.30 492.02,110.30 493.54,110.30 495.05,110.29 496.57,110.29 498.08,110.29 499.60,110.29 501.11,110.29 502.63,110.28 504.14,110.28 505.66,110.28 507.17,110.28 508.69,110.27 510.20,110.27 511.72,110.27 513.23,110.27 514.75,110.26 516.26,110.26 517.78,110.26 519.29,110.25 520.81,110.25 522.32,110.24 523.84,110.24 525.35,110.23 526.87,110.23 528.38,110.22 529.90,110.22 531.41,110.21 532.93,110.21 534.44,110.20 535.96,110.19 537.47,110.19 538.99,110.18 540.50,110.17 542.02,110.16 543.53,110.15 545.05,110.14 546.56,110.13 548.08,110.12 549.59,110.11 551.11,110.10 552.62,110.08 554.14,110.07 555.65,110.05 557.17,110.04 558.68,110.02 560.20,110.01 561.71,109.99 563.23,109.97 564.74,109.95 566.26,109.93 567.77,109.90 569.29,109.88 570.80,109.85 572.32,109.83 573.83,109.80 575.35,109.77 576.86,109.74 578.38,109.70 579.89,109.67 581.41,109.63 582.92,109.59 584.44,109.55 585.95,109.51 587.47,109.46 588.98,109.41 590.50,109.36 592.01,109.30 593.53,109.25 595.04,109.19 596.56,109.12 598.07,109.05 599.59,108.98 601.10,108.91 602.62,108.83 604.13,108.74 605.65,108.65 607.16,108.56 608.68,108.46 610.19,108.36 611.71,108.25 613.22,108.13 614.74,108.01 616.25,107.88 617.77,107.75 619.28,107.61 620.80,107.46 622.31,107.30 623.83,107.13 625.34,106.96 626.86,106.78 628.37,106.59 629.89,106.38 631.40,106.17 632.92,105.95 634.43,105.71 635.95,105.47 637.46,105.21 638.98,104.94 640.50,104.66 642.01,104.36 643.53,104.05 645.04,103.72 646.56,103.38 648.07,103.03 649.59,102.66 651.10,102.27 652.62,101.86 654.13,101.44 655.65,101.00 657.16,100.54 658.68,100.06 660.19,99.56 661.71,99.04 663.22,98.50 664.74,97.94 666.25,97.36 667.77,96.76 669.28,96.13 670.80,95.48 672.31,94.81 673.83,94.12 675.34,93.40 676.86,92.66 678.37,91.90 679.89,91.11 681.40,90.30 682.92,89.46 684.43,88.60 685.95,87.72 687.46,86.81 688.98,85.88 690.49,84.92 692.01,83.94 693.52,82.94 695.04,81.91 696.55,80.86 698.07,79.79 699.58,78.69 701.10,77.57 702.61,76.44 704.13,75.27 705.64,74.09 707.16,72.89 708.67,71.67 710.19,70.42 711.70,69.16 713.22,67.88 714.73,66.58 716.25,65.27 717.76,63.93 719.28,62.58 720.79,61.21 722.31,59.83 723.82,58.43 725.34,57.02 726.85,55.60 728.37,54.16 729.88,52.70 731.40,51.24 732.91,49.76 734.43,48.27 735.94,46.77 737.46,45.26 738.97,43.73 740.49,42.20 742.00,40.66 743.52,39.11 745.03,37.55 746.55,35.98 748.06,34.41 749.58,32.83 751.09,31.24 752.61,29.64 754.12,28.04 755.64,26.43 757.15,24.81 758.67,23.19 760.18,21.56 761.70,19.93 763.21,18.29 764.73,16.65 766.24,15.00 767.76,13.35 769.27,11.70 770.79,10.04 772.30,8.38 773.82,6.71 775.33,5.05 776.85,3.37 778.36,1.70 779.88,0.02 781.39,-1.66 782.91,-3.34 784.42,-5.02 785.94,-6.71 787.45,-8.40 788.97,-10.09 790.48,-11.78 792.00,-13.48 793.51,-15.18 795.03,-16.87 796.54,-18.57 798.06,-20.28 799.57,-21.98 801.09,-23.68 802.60,-25.39 804.12,-27.09 805.63,-28.80 807.15,-30.51 808.66,-32.22 810.18,-33.93 811.69,-35.64 813.21,-37.35 814.72,-39.07 816.24,-40.78 817.75,-42.49 819.27,-44.21 820.78,-45.92 822.30,-47.64" stroke="#0000ff" stroke-width="1.5"/>
<polyline points="458.69,153.00 460.21,153.00 461.72,153.00 463.24,153.00 464.75,153.00 466.27,153.00 467.78,153.00 469.30,153.00 470.81,153.00 472.33,153.00 473.84,153.00 475.36,152.99 476.87,152.99 478.39,152.99 479.90,152.99 481.42,152.99 482.93,152.99 484.45,152.99 485.96,152.99 487.48,152.99 488.99,152.99 490.51,152.98 492.02,152.98 493.54,152.98 495.05,152.98 496.57,152.98 498.08,152.98 499.60,152.97 501.11,152.97 502.63,152.97 504.14,152.97 505.66,152.97 507.17,152.96 508.69,152.96 510.20,152.96 511.72,152.96 513.23,152.95 514.75,152.95 516.26,152.95 517.78,152.94 519.29,152.94 520.81,152.93 522.32,152.93 523.84,152.93 525.35,152.92 526.87,152.92 528.38,152.91 529.90,152.90 531.41,152.90 532.93,152.89 534.44,152.89 535.96,152.88 537.47,152.87 538.99,152.86 540.50,152.85 542.02,152.85 543.53,152.84 545.05,152.83 546.56,152.82 548.08,152.81 549.59,152.79 551.11,152.78 552.62,152.77 554.14,152.75 555.65,152.74 557.17,152.72 558.68,152.71 560.20,152.69 561.71,152.67 563.23,152.65 564.74,152.63 566.26,152.61 567.77,152.59 569.29,152.57 570.80,152.54 572.32,152.51 573.83,152.48 575.35,152.45 576.86,152.42 578.38,152.39 579.89,152.35 581.41,152.32 582.92,152.28 584.44,152.24 585.95,152.19 587.47,152.15 588.98,152.10 590.50,152.05 592.01,151.99 593.53,151.93 595.04,151.87 596.56,151.81 598.07,151.74 599.59,151.67 601.10,151.59 602.62,151.51 604.13,151.43 605.65,151.34 607.16,151.25 608.68,151.15 610.19,151.04 611.71,150.94 613.22,150.82 614.74,150.70 616.25,150.57 617.77,150.44 619.28,150.29 620.80,150.14 622.31,149.99 623.83,149.82 625.34,149.65 626.86,149.46 628.37,149.27 629.89,149.07 631.40,148.86 632.92,148.63 634.43,148.40 635.95,148.15 637.46,147.90 638.98,147.63 640.50,147.34 642.01,147.05 643.53,146.74 645.04,146.41 646.56,146.07 648.07,145.71 649.59,145.34 651.10,144.95 652.62,144.55 654.13,144.13 655.65,143.68 657.16,143.22 658.68,142.75 660.19,142.25 661.71,141.73 663.22,141.19 664.74,140.63 666.25,140.05 667.77,139.44 669.28,138.82 670.80,138.17 672.31,137.50 673.83,136.81 675.34,136.09 676.86,135.35 678.37,134.59 679.89,133.80 681.40,132.99 682.92,132.15 684.43,131.29 685.95,130.40 687.46,129.50 688.98,128.56 690.49,127.61 692.01,126.63 693.52,125.62 695.04,124.60 696.55,123.55 698.07,122.47 699.58,121.38 701.10,120.26 702.61,119.12 704.13,117.96 705.64,116.78 707.16,115.58 708.67,114.35 710.19,113.11 711.70,111.85 713.22,110.57 714.73,109.27 716.25,107.95 717.76,106.62 719.28,105.27 720.79,103.90 722.31,102.52 723.82,101.12 725.34,99.71 726.85,98.28 728.37,96.84 729.88,95.39 731.40,93.92 732.91,92.45 734.43,90.96 735.94,89.45 737.46,87.94 738.97,86.42 740.49,84.89 742.00,83.35 743.52,81.80 745.03,80.24 746.55,78.67 748.06,77.09 749.58,75.51 751.09,73.92 752.61,72.32 754.12,70.72 755.64,69.11 757.15,67.50 758.67,65.87 760.18,64.25 761.70,62.61 763.21,60.98 764.73,59.34 766.24,57.69 767.76,56.04 769.27,54.39 770.79,52.73 772.30,51.07 773.82,49.40 775.33,47.73 776.85,46.06 778.36,44.39 779.88,42.71 781.39,41.03 782.91,39.35 784.42,37.66 785.94,35.97 787.45,34.29 788.97,32.59 790.48,30.90 792.00,29.21 793.51,27.51 795.03,25.81 796.54,24.11 798.06,22.41 799.57,20.71 801.09,19.00 802.60,17.30 804.12,15.59 805.63,13.89 807.15,12.18 808.66,10.47 810.18,8.76 811.69,7.05 813.21,5.33 814.72,3.62 816.24,1.91 817.75,0.19 819.27,-1.52 820.78,-3.24 822.30,-4.96" stroke="#00ff00" stroke-width="1.5"/>
<polyline points="458.69,152.49 460.21,152.49 461.72,152.49 463.24,152.49 464.75,152.49 466.27,152.49 467.78,152.49 469.30,152.49 470.81,152.49 472.33,152.48 473.84,152.48 475.36,152.48 476.87,152.48 478.39,152.48 479.90,152.48 481.42,152.47 482.93,152.47 484.45,152.47 485.96,152.47 487.48,152.47 488.99,152.46 490.51,152.46 492.02,152.46 493.54,152.46 495.05,152.45 496.57,152.45 498.08,152.45 499.60,152.44 501.11,152.44 502.63,152.44 504.14,152.43 505.66,152.43 507.17,152.42 508.69,152.42 510.20,152.41 511.72,152.41 513.23,152.40 514.75,152.39 516.26,152.39 517.78,152.38 519.29,152.37 520.81,152.36 522.32,152.36 523.84,152.35 525.35,152.34 526.87,152.33 528.38,152.32 529.90,152.31 531.41,152.30 532.93,152.28 534.44,152.27 535.96,152.26 537.47,152.24 538.99,152.23 540.50,152.21 542.02,152.19 543.53,152.18 545.05,152.16 546.56,152.14 548.08,152.12 549.59,152.09 551.11,152.07 552.62,152.05 554.14,152.02 555.65,151.99 557.17,151.96 558.68,151.93 560.20,151.90 561.71,151.86 563.23,151.83 564.74,151.79 566.26,151.75 567.77,151.70 569.29,151.66 570.80,151.61 572.32,151.56 573.83,151.50 575.35,151.45 576.86,151.39 578.38,151.32 579.89,151.25 581.41,151.18 582.92,151.11 584.44,151.03 585.95,150.95 587.47,150.86 588.98,150.77 590.50,150.67 592.01,150.57 593.53,150.46 595.04,150.34 596.56,150.22 598.07,150.10 599.59,149.96 601.10,149.82 602.62,149.67 604.13,149.52 605.65,149.35 607.16,149.18 608.68,149.00 610.19,148.81 611.71,148.61 613.22,148.40 614.74,148.18 616.25,147.94 617.77,147.70 619.28,147.44 620.80,147.17 622.31,146.89 623.83,146.60 625.34,146.29 626.86,145.97 628.37,145.63 629.89,145.27 631.40,144.90 632.92,144.51 634.43,144.11 635.95,143.69 637.46,143.25 638.98,142.79 640.50,142.31 642.01,141.82 643.53,141.30 645.04,140.76 646.56,140.20 648.07,139.62 649.59,139.02 651.10,138.39 652.62,137.74 654.13,137.07 655.65,136.38 657.16,135.66 658.68,134.92 660.19,134.16 661.71,133.37 663.22,132.55 664.74,131.72 666.25,130.85 667.77,129.97 669.28,129.06 670.80,128.12 672.31,127.16 673.83,126.18 675.34,125.17 676.86,124.14 678.37,123.09 679.89,122.02 681.40,120.92 682.92,119.80 684.43,118.65 685.95,117.49 687.46,116.30 688.98,115.10 690.49,113.87 692.01,112.62 693.52,111.36 695.04,110.07 696.55,108.77 698.07,107.45 699.58,106.11 701.10,104.76 702.61,103.39 704.13,102.00 705.64,100.60 707.16,99.18 708.67,97.75 710.19,96.31 711.70,94.85 713.22,93.38 714.73,91.90 716.25,90.41 717.76,88.91 719.28,87.39 720.79,85.87 722.31,84.33 723.82,82.79 725.34,81.23 726.85,79.67 728.37,78.10 729.88,76.52 731.40,74.94 732.91,73.35 734.43,71.75 735.94,70.14 737.46,68.53 738.97,66.91 740.49,65.29 742.00,63.66 743.52,62.03 745.03,60.39 746.55,58.74 748.06,57.10 749.58,55.45 751.09,53.79 752.61,52.13 754.12,50.47 755.64,48.80 757.15,47.13 758.67,45.46 760.18,43.78 761.70,42.11 763.21,40.43 764.73,38.74 766.24,37.06 767.76,35.37 769.27,33.68 770.79,31.99 772.30,30.29 773.82,28.60 775.33,26.90 776.85,25.20 778.36,23.50 779.88,21.80 781.39,20.10 782.91,18.39 784.42,16.69 785.94,14.98 787.45,13.27 788.97,11.56 790.48,9.85 792.00,8.14 793.51,6.43 795.03,4.72 796.54,3.01 798.06,1.29 799.57,-0.42 801.09,-2.14 802.60,-3.85 804.12,-5.57 805.63,-7.29 807.15,-9.01 808.66,-10.72 810.18,-12.44 811.69,-14.16 813.21,-15.88 814.72,-17.60 816.24,-19.32 817.75,-21.04 819.27,-22.76 820.78,-24.48 822.30,-26.21" stroke="#ff0000" stroke-width="1.5"/>
<polyline points="458.69,152.98 460.21,152.98 461.72,152.97 463.24,152.97 464.75,152.97 466.27,152.97 467.78,152.97 469.30,152.96 470.81,152.96 472.33,152.96 473.84,152.96 475.36,152.95 476.87,152.95 478.39,152.95 479.90,152.94 481.42,152.94 482.93,152.94 484.45,152.93 485.96,152.93 487.48,152.92 488.99,152.92 490.51,152.91 492.02,152.91 493.54,152.90 495.05,152.89 496.57,152.89 498.08,152.88 499.60,152.87 501.11,152.87 502.63,152.86 504.14,152.85 505.66,152.84 507.17,152.83 508.69,152.82 510.20,152.81 511.72,152.80 513.23,152.78 514.75,152.77 516.26,152.76 517.78,152.74 519.29,152.73 520.81,152.71 522.32,152.70 523.84,152.68 525.35,152.66 526.87,152.64 528.38,152.62 529.90,152.60 531.41,152.57 532.93,152.55 534.44,152.52 535.96,152.49 537.47,152.46 538.99,152.43 540.50,152.40 542.02,152.36 543.53,152.33 545.05,152.29 546.56,152.25 548.08,152.20 549.59,152.16 551.11,152.11 552.62,152.06 554.14,152.01 555.65,151.95 557.17,151.89 558.68,151.83 560.20,151.76 561.71,151.69 563.23,151.61 564.74,151.54 566.26,151.45 567.77,151.37 569.29,151.27 570.80,151.18 572.32,151.07 573.83,150.97 575.35,150.85 576.86,150.73 578.38,150.61 579.89,150.47 581.41,150.33 582.92,150.19 584.44,150.03 585.95,149.87 587.47,149.70 588.98,149.52 590.50,149.33 592.01,149.13 593.53,148.92 595.04,148.70 596.56,148.47 598.07,148.22 599.59,147.97 601.10,147.70 602.62,147.42 604.13,147.13 605.65,146.82 607.16,146.50 608.68,146.17 610.19,145.82 611.71,145.45 613.22,145.07 614.74,144.66 616.25,144.25 617.77,143.81 619.28,143.36 620.80,142.88 622.31,142.39 623.83,141.88 625.34,141.34 626.86,140.79 628.37,140.21 629.89,139.62 631.40,139.00 632.92,138.36 634.43,137.69 635.95,137.01 637.46,136.29 638.98,135.56 640.50,134.80 642.01,134.02 643.53,133.22 645.04,132.39 646.56,131.53 648.07,130.66 649.59,129.76 651.10,128.83 652.62,127.88 654.13,126.91 655.65,125.91 657.16,124.89 658.68,123.85 660.19,122.78 661.71,121.69 663.22,120.58 664.74,119.45 666.25,118.29 667.77,117.11 669.28,115.92 670.80,114.70 672.31,113.46 673.83,112.21 675.34,110.93 676.86,109.64 678.37,108.33 679.89,107.00 681.40,105.65 682.92,104.29 684.43,102.91 685.95,101.52 687.46,100.11 688.98,98.69 690.49,97.25 692.01,95.80 693.52,94.34 695.04,92.86 696.55,91.38 698.07,89.88 699.58,88.37 701.10,86.85 702.61,85.32 704.13,83.78 705.64,82.24 707.16,80.68 708.67,79.11 710.19,77.54 711.70,75.96 713.22,74.37 714.73,72.78 716.25,71.18 717.76,69.57 719.28,67.95 720.79,66.33 722.31,64.71 723.82,63.08 725.34,61.44 726.85,59.80 728.37,58.16 729.88,56.51 731.40,54.85 732.91,53.20 734.43,51.54 735.94,49.87 737.46,48.20 738.97,46.53 740.49,44.86 742.00,43.18 743.52,41.50 745.03,39.82 746.55,38.14 748.06,36.45 749.58,34.76 751.09,33.07 752.61,31.38 754.12,29.69 755.64,27.99 757.15,26.29 758.67,24.59 760.18,22.89 761.70,21.19 763.21,19.49 764.73,17.78 766.24,16.08 767.76,14.37 769.27,12.66 770.79,10.95 772.30,9.24 773.82,7.53 775.33,5.82 776.85,4.10 778.36,2.39 779.88,0.68 781.39,-1.04 782.91,-2.75 784.42,-4.47 785.94,-6.19 787.45,-7.90 788.97,-9.62 790.48,-11.34 792.00,-13.06 793.51,-14.78 795.03,-16.50 796.54,-18.22 798.06,-19.94 799.57,-21.66 801.09,-23.38 802.60,-25.10 804.12,-26.82 805.63,-28.55 807.15,-30.27 808.66,-31.99 810.18,-33.71 811.69,-35.44 813.21,-37.16 814.72,-38.88 816.24,-40.61 817.75,-42.33 819.27,-44.05 820.78,-45.78 822.30,-47.50" stroke="#0000ff" stroke-width="1.5"/>
<line x1="768.90" y1="2.10" x2="768.90" y2="285.70" stroke="#000" stroke-width="2.2" />
</g>
<text transform="translate(501.54,302.00) scale(1.0724,1)" font-size="13.0"   fill="#1c1c1c">10</text>
<text transform="translate(516.81,296.00) scale(1.1473,1)" font-size="10.2"   fill="#1c1c1c">6</text>
<text transform="translate(563.74,302.00) scale(1.0724,1)" font-size="13.0"   fill="#1c1c1c">10</text>
<text transform="translate(578.99,296.00) scale(1.1646,1)" font-size="10.2"   fill="#1c1c1c">7</text>
<text transform="translate(625.94,302.00) scale(1.0724,1)" font-size="13.0"   fill="#1c1c1c">10</text>
<text transform="translate(641.30,296.00) scale(1.1282,1)" font-size="10.2"   fill="#1c1c1c">8</text>
<text transform="translate(688.14,302.00) scale(1.0724,1)" font-size="13.0"   fill="#1c1c1c">10</text>
<text transform="translate(703.45,296.00) scale(1.1461,1)" font-size="10.2"   fill="#1c1c1c">9</text>
<text transform="translate(748.06,302.00) scale(1.0492,1)" font-size="13.0"   fill="#1c1c1c">10</text>
<text transform="translate(764.91,296.00) scale(0.8948,1)" font-size="10.2"   fill="#1c1c1c">10</text>
<text transform="translate(810.26,302.00) scale(1.0492,1)" font-size="13.0"   fill="#1c1c1c">10</text>
<text transform="translate(826.45,296.00) scale(0.8341,1)" font-size="10.2"   fill="#1c1c1c">11</text>
<text transform="translate(452.90,267.15) rotate(-90) scale(1.0724,1)" font-size="13.0"  fill="#1c1c1c">10</text>
<text transform="translate(446.60,251.90) rotate(-90) scale(1.1646,1)" font-size="10.2"  fill="#1c1c1c">7</text>
<text transform="translate(452.90,196.25) rotate(-90) scale(1.0724,1)" font-size="13.0"  fill="#1c1c1c">10</text>
<text transform="translate(446.60,180.89) rotate(-90) scale(1.1282,1)" font-size="10.2"  fill="#1c1c1c">8</text>
<text transform="translate(452.90,125.35) rotate(-90) scale(1.0724,1)" font-size="13.0"  fill="#1c1c1c">10</text>
<text transform="translate(446.60,110.03) rotate(-90) scale(1.1461,1)" font-size="10.2"  fill="#1c1c1c">9</text>
<text transform="translate(452.90,56.25) rotate(-90) scale(1.0724,1)" font-size="13.0"  fill="#1c1c1c">10</text>
<text transform="translate(446.60,39.58) rotate(-90) scale(0.8948,1)" font-size="10.2"  fill="#1c1c1c">10</text>
<text transform="translate(590.29,327.70) scale(1.0866,1)" font-size="13.0"   fill="#1c1c1c">true</text>
<text transform="translate(621.23,327.70) scale(1.0389,1)" font-size="13.0"   fill="#1c1c1c">age,</text>
<text transform="translate(654.17,327.70) scale(1.1446,1)" font-size="13.0"   fill="#1c1c1c">t</text>
<text transform="translate(671.23,327.70) scale(1.1972,1)" font-size="13.0"   fill="#1c1c1c">(yr)</text>
<text transform="translate(433.70,226.70) rotate(-90) scale(1.0807,1)" x="-0.51 5.53 12.25 19.19 23.64 31.06 38.38 42.12 49.60 55.19 58.14 64.79 68.48 71.43" y="0" font-size="13.0" fill="#1c1c1c">characteristic</text>
<text transform="translate(433.70,135.98) rotate(-90) scale(1.0559,1)" font-size="13.0"  fill="#1c1c1c">age,</text>
<text transform="translate(433.70,104.42) rotate(-90) scale(1.1975,1)" font-size="13.0" font-style="italic" fill="#1c1c1c">&#964;</text>
<text transform="translate(433.70,82.85) rotate(-90) scale(1.1804,1)" font-size="13.0"  fill="#1c1c1c">(yr)</text>
<line x1="679.05" y1="204.6" x2="704.70" y2="204.6" stroke="#000" stroke-width="1.9" stroke-linecap="round" stroke-dasharray="1.1 6.73"/>
<line x1="672.30" y1="225.60" x2="705.10" y2="225.60" stroke="#0000ff" stroke-width="1.4" />
<line x1="672.30" y1="246.70" x2="705.10" y2="246.70" stroke="#ff0000" stroke-width="1.4" />
<line x1="672.30" y1="267.80" x2="705.10" y2="267.80" stroke="#00ff00" stroke-width="1.4" />
<text transform="translate(709.93,208.60) scale(1.4660,1)" font-size="13.0"  font-style="italic" fill="#1c1c1c">&#964;</text>
<text transform="translate(718.70,208.60) scale(1.2666,1)" font-size="13.0"   fill="#1c1c1c">=</text>
<text transform="translate(729.40,208.60) scale(1.0242,1)" font-size="13.0"   fill="#1c1c1c">t</text>
<text transform="translate(710.43,229.80) scale(1.1227,1)" font-size="13.0"   fill="#1c1c1c">n</text>
<text transform="translate(718.84,229.80) scale(1.3616,1)" font-size="13.0"   fill="#1c1c1c">=</text>
<text transform="translate(728.74,229.80) scale(1.0708,1)" font-size="13.0"   fill="#1c1c1c">5</text>
<text transform="translate(710.43,250.90) scale(1.1227,1)" font-size="13.0"   fill="#1c1c1c">n</text>
<text transform="translate(718.84,250.90) scale(1.3616,1)" font-size="13.0"   fill="#1c1c1c">=</text>
<text transform="translate(728.77,250.90) scale(1.0708,1)" font-size="13.0"   fill="#1c1c1c">3</text>
<text transform="translate(710.43,272.00) scale(1.1227,1)" font-size="13.0"   fill="#1c1c1c">n</text>
<text transform="translate(718.84,272.00) scale(1.3616,1)" font-size="13.0"   fill="#1c1c1c">=</text>
<text transform="translate(728.57,272.00) scale(1.1144,1)" font-size="13.0"   fill="#1c1c1c">2</text>
<text transform="translate(772.58,243.90) scale(1.0574,1)" font-size="10.6"   fill="#1c1c1c">Hubble</text>
<text transform="translate(773.32,257.80) scale(1.0931,1)" font-size="10.6"   fill="#1c1c1c">time</text>
<text transform="translate(672.16,187.00) scale(1.0898,1)" font-size="15" stroke="#000" stroke-width="0.45" stroke-linejoin="round"  fill="#000">B</text>
<text transform="translate(682.41,191.60) scale(1.1954,1)" font-size="10.5" stroke="#000" stroke-width="0.45" stroke-linejoin="round"  fill="#000">0</text>
<text transform="translate(695.18,187.00) scale(1.3859,1)" font-size="15" stroke="#000" stroke-width="0.45" stroke-linejoin="round"  fill="#000">=</text>
<text transform="translate(713.79,187.00) scale(0.9695,1)" font-size="15" stroke="#000" stroke-width="0.45" stroke-linejoin="round"  fill="#000">10</text>
<text transform="translate(730.24,181.00) scale(1.4410,1)" font-size="10.5" stroke="#000" stroke-width="0.45" stroke-linejoin="round"  fill="#000">8</text>
<text transform="translate(744.10,187.00) scale(0.9293,1)" font-size="15" stroke="#000" stroke-width="0.45" stroke-linejoin="round"  fill="#000">G</text>
<text transform="translate(476.66,69.70) scale(0.8816,1)" font-size="13.0"   fill="#1c1c1c">P</text>
<text transform="translate(485.46,74.70) scale(1.1296,1)" font-size="10.0"   fill="#1c1c1c">0</text>
<text transform="translate(498.04,69.70) scale(1.3616,1)" font-size="13.0"   fill="#1c1c1c">=</text>
<text transform="translate(514.95,69.70) scale(1.0620,1)" font-size="13.0"   fill="#1c1c1c">5.0</text>
<text transform="translate(541.26,69.70) scale(1.0878,1)" font-size="13.0"   fill="#1c1c1c">ms</text>
<text transform="translate(476.66,100.80) scale(0.8816,1)" font-size="13.0"   fill="#1c1c1c">P</text>
<text transform="translate(485.46,105.80) scale(1.1296,1)" font-size="10.0"   fill="#1c1c1c">0</text>
<text transform="translate(498.04,100.80) scale(1.3616,1)" font-size="13.0"   fill="#1c1c1c">=</text>
<text transform="translate(514.97,100.80) scale(1.0604,1)" font-size="13.0"   fill="#1c1c1c">3.0</text>
<text transform="translate(541.26,100.80) scale(1.0878,1)" font-size="13.0"   fill="#1c1c1c">ms</text>
<text transform="translate(476.66,143.60) scale(0.8816,1)" font-size="13.0"   fill="#1c1c1c">P</text>
<text transform="translate(485.46,148.60) scale(1.1296,1)" font-size="10.0"   fill="#1c1c1c">0</text>
<text transform="translate(498.04,143.60) scale(1.3616,1)" font-size="13.0"   fill="#1c1c1c">=</text>
<text transform="translate(515.58,143.60) scale(1.0281,1)" font-size="13.0"   fill="#1c1c1c">1.5</text>
<text transform="translate(541.26,143.60) scale(1.0878,1)" font-size="13.0"   fill="#1c1c1c">ms</text>
</svg>
</body></html>
